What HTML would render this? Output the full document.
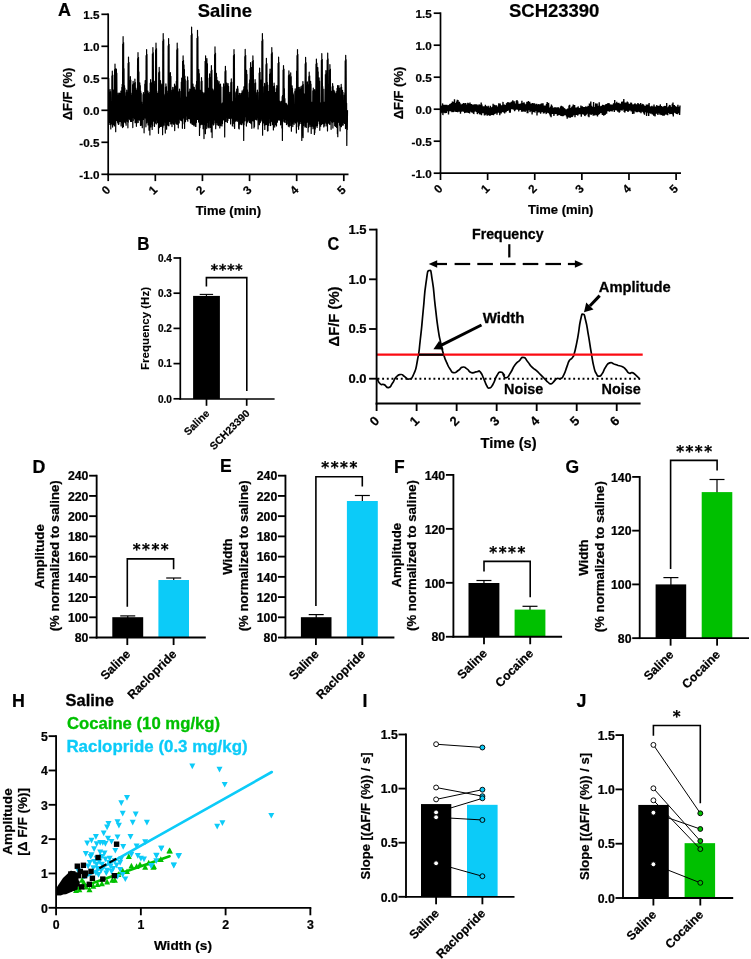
<!DOCTYPE html>
<html><head><meta charset="utf-8"><title>Figure</title>
<style>
html,body{margin:0;padding:0;background:#fff;}
svg{display:block;font-family:"Liberation Sans",sans-serif;}
</style></head><body>
<svg width="751" height="959" viewBox="0 0 751 959">
<rect width="751" height="959" fill="#fff"/>
<polyline points="108.5,78.3 108.7,78.3 109.0,122.5 109.2,110.6 109.4,122.5 109.6,92.0 109.9,124.4 110.1,89.5 110.3,122.6 110.5,91.6 110.8,129.0 111.0,104.9 111.2,124.7 111.4,108.1 111.7,122.8 111.9,75.9 112.1,123.4 112.3,71.2 112.6,127.1 112.8,75.1 113.0,120.8 113.2,92.4 113.5,124.7 113.7,90.0 113.9,121.8 114.1,92.0 114.4,125.9 114.6,69.6 114.8,122.2 115.0,64.0 115.3,122.9 115.5,68.7 115.7,131.7 115.9,74.0 116.2,120.4 116.4,69.1 116.6,120.4 116.8,73.2 117.1,120.3 117.3,104.1 117.5,122.2 117.7,95.2 118.0,123.2 118.2,93.1 118.4,124.5 118.6,94.8 118.9,124.0 119.1,95.0 119.3,121.7 119.5,93.0 119.8,120.6 120.0,94.7 120.2,121.5 120.4,93.4 120.7,118.0 120.9,91.1 121.1,126.0 121.3,93.0 121.6,122.6 121.8,87.4 122.0,121.2 122.2,84.3 122.5,127.6 122.7,44.1 122.9,120.7 123.1,36.7 123.4,126.7 123.6,42.6 123.8,117.0 124.0,68.7 124.3,121.9 124.5,85.7 124.7,119.4 124.9,88.1 125.2,122.8 125.4,96.1 125.6,120.4 125.8,105.0 126.1,125.2 126.3,92.5 126.5,117.7 126.7,90.0 127.0,120.6 127.2,92.1 127.4,121.5 127.6,106.2 127.9,127.8 128.1,63.4 128.3,122.3 128.5,57.0 128.8,117.2 129.0,62.4 129.2,118.1 129.4,103.7 129.7,119.6 129.9,80.7 130.1,119.8 130.4,76.7 130.6,121.4 130.8,80.1 131.0,116.9 131.3,105.0 131.5,121.5 131.7,95.3 131.9,116.6 132.2,93.2 132.4,116.9 132.6,84.7 132.8,127.6 133.1,81.3 133.3,120.4 133.5,84.2 133.7,116.9 134.0,97.3 134.2,117.5 134.4,83.0 134.6,118.9 134.9,79.2 135.1,122.7 135.3,82.3 135.5,120.5 135.8,88.0 136.0,122.2 136.2,90.3 136.4,126.3 136.7,92.3 136.9,122.9 137.1,89.8 137.3,119.9 137.6,58.5 137.8,117.7 138.0,52.7 138.2,122.5 138.5,57.3 138.7,119.6 138.9,71.9 139.1,118.1 139.4,86.2 139.6,120.1 139.8,82.9 140.0,120.3 140.3,85.7 140.5,125.4 140.7,91.1 140.9,125.4 141.2,93.0 141.4,122.4 141.6,102.0 141.8,124.6 142.1,104.4 142.3,127.7 142.5,104.8 142.7,119.4 143.0,94.6 143.2,118.6 143.4,92.5 143.6,119.5 143.9,94.3 144.1,132.8 144.3,102.2 144.5,118.0 144.8,84.2 145.0,117.6 145.2,80.7 145.4,118.1 145.7,83.6 145.9,126.8 146.1,55.6 146.3,119.1 146.6,49.5 146.8,122.8 147.0,54.4 147.2,120.9 147.5,93.3 147.7,120.0 147.9,91.0 148.1,125.0 148.4,92.9 148.6,123.7 148.8,105.0 149.0,130.2 149.3,94.4 149.5,124.0 149.7,92.3 149.9,134.9 150.2,83.2 150.4,124.9 150.6,79.5 150.8,126.9 151.1,82.6 151.3,124.2 151.5,109.3 151.7,120.4 152.0,94.4 152.2,129.5 152.4,53.9 152.7,125.9 152.9,47.6 153.1,119.9 153.3,52.6 153.6,121.1 153.8,85.4 154.0,119.9 154.2,84.9 154.5,126.4 154.7,81.4 154.9,122.4 155.1,84.3 155.4,119.1 155.6,49.8 155.8,123.2 156.0,43.1 156.3,123.9 156.5,48.5 156.7,119.2 156.9,91.0 157.2,120.0 157.4,93.0 157.6,122.7 157.8,105.7 158.1,120.6 158.3,106.9 158.5,133.3 158.7,72.5 159.0,122.2 159.2,67.4 159.4,127.6 159.6,71.7 159.9,119.3 160.1,84.2 160.3,126.5 160.5,80.7 160.8,123.2 161.0,83.6 161.2,126.5 161.4,87.9 161.7,125.3 161.9,84.9 162.1,125.6 162.3,87.4 162.6,134.7 162.8,41.2 163.0,127.2 163.2,33.5 163.5,122.8 163.7,39.6 163.9,125.2 164.1,94.1 164.4,120.7 164.6,95.7 164.8,122.0 165.0,104.2 165.3,133.1 165.5,87.1 165.7,120.3 165.9,83.9 166.2,122.0 166.4,86.5 166.6,129.2 166.8,107.1 167.1,124.5 167.3,93.4 167.5,124.3 167.7,91.1 168.0,125.3 168.2,45.8 168.4,122.1 168.6,38.6 168.9,125.8 169.1,44.4 169.3,119.8 169.5,85.9 169.8,121.5 170.0,77.2 170.2,121.4 170.4,72.7 170.7,124.0 170.9,76.4 171.1,121.3 171.3,100.2 171.6,123.7 171.8,106.1 172.0,126.6 172.2,90.1 172.5,122.9 172.7,87.4 172.9,120.5 173.1,89.7 173.4,123.8 173.6,107.6 173.8,124.3 174.1,87.4 174.3,120.4 174.5,84.2 174.7,130.6 175.0,86.9 175.2,121.8 175.4,86.1 175.6,120.9 175.9,88.5 176.1,123.6 176.3,81.4 176.5,120.1 176.8,49.8 177.0,124.5 177.2,43.1 177.4,120.6 177.7,48.5 177.9,123.8 178.1,95.8 178.3,127.8 178.6,98.9 178.8,119.9 179.0,91.7 179.2,123.0 179.5,89.2 179.7,117.7 179.9,91.3 180.1,119.2 180.4,101.5 180.6,119.9 180.8,104.0 181.0,120.4 181.3,82.0 181.5,118.7 181.7,78.1 181.9,121.1 182.2,81.3 182.4,128.3 182.6,61.3 182.8,119.0 183.1,55.9 183.3,117.7 183.5,60.3 183.7,116.1 184.0,64.9 184.2,123.8 184.4,69.4 184.6,128.5 184.9,76.1 185.1,118.7 185.3,79.5 185.5,121.7 185.8,97.3 186.0,115.2 186.2,104.6 186.4,115.9 186.7,96.8 186.9,119.4 187.1,80.9 187.3,119.8 187.6,76.9 187.8,121.2 188.0,80.3 188.2,117.2 188.5,92.4 188.7,118.3 188.9,94.2 189.1,118.4 189.4,91.6 189.6,118.7 189.8,89.1 190.0,118.9 190.3,91.2 190.5,123.0 190.7,105.6 190.9,119.0 191.2,35.4 191.4,121.8 191.6,27.1 191.8,124.0 192.1,33.8 192.3,117.4 192.5,87.4 192.7,124.4 193.0,84.2 193.2,123.3 193.4,86.8 193.6,125.0 193.9,90.1 194.1,125.8 194.3,87.4 194.5,121.8 194.8,89.7 195.0,124.1 195.2,90.7 195.5,126.3 195.7,92.7 195.9,126.5 196.1,84.8 196.4,122.6 196.6,81.3 196.8,119.0 197.0,38.3 197.3,119.4 197.5,30.3 197.7,119.2 197.9,36.7 198.2,119.5 198.4,74.4 198.6,122.1 198.8,69.5 199.1,119.4 199.3,73.6 199.5,135.5 199.7,92.7 200.0,127.7 200.2,90.3 200.4,121.0 200.6,92.3 200.9,124.7 201.1,81.6 201.3,121.4 201.5,77.7 201.8,124.2 202.0,81.0 202.2,120.6 202.4,94.5 202.7,124.5 202.9,92.4 203.1,128.7 203.3,94.2 203.6,127.3 203.8,95.2 204.0,138.6 204.2,93.1 204.5,124.5 204.7,94.9 204.9,121.8 205.1,61.3 205.4,133.7 205.6,55.9 205.8,125.3 206.0,60.3 206.3,122.3 206.5,64.8 206.7,128.6 206.9,58.5 207.2,122.3 207.4,63.7 207.6,121.7 207.8,91.1 208.1,127.2 208.3,88.4 208.5,126.7 208.7,90.6 209.0,127.9 209.2,78.2 209.4,119.4 209.6,73.8 209.9,120.6 210.1,77.4 210.3,127.3 210.5,107.3 210.8,123.7 211.0,71.0 211.2,131.9 211.4,65.7 211.7,122.4 211.9,70.1 212.1,137.6 212.3,91.7 212.6,121.4 212.8,89.2 213.0,123.7 213.2,91.3 213.5,125.0 213.7,92.6 213.9,124.2 214.1,90.1 214.4,120.0 214.6,54.5 214.8,119.7 215.0,46.9 215.3,122.7 215.5,53.2 215.7,128.7 215.9,77.8 216.2,121.0 216.4,73.4 216.6,122.4 216.8,77.1 217.1,124.8 217.3,84.2 217.5,119.4 217.8,80.7 218.0,122.6 218.2,83.6 218.4,125.6 218.7,85.1 218.9,124.9 219.1,81.6 219.3,121.4 219.6,84.5 219.8,128.0 220.0,87.3 220.2,124.4 220.5,84.2 220.7,125.7 220.9,86.8 221.1,118.3 221.4,104.0 221.6,122.8 221.8,106.3 222.0,126.0 222.3,103.2 222.5,123.6 222.7,103.7 222.9,119.5 223.2,87.0 223.4,120.0 223.6,83.9 223.8,116.4 224.1,86.5 224.3,117.2 224.5,93.8 224.7,136.9 225.0,71.6 225.2,117.4 225.4,66.3 225.6,121.3 225.9,70.7 226.1,121.6 226.3,86.3 226.5,117.0 226.8,83.0 227.0,117.0 227.2,85.7 227.4,122.4 227.7,86.9 227.9,120.4 228.1,83.7 228.3,117.9 228.6,86.4 228.8,117.8 229.0,102.6 229.2,118.4 229.5,94.5 229.7,118.0 229.9,92.3 230.1,118.1 230.4,94.1 230.6,123.9 230.8,82.6 231.0,116.2 231.3,78.9 231.5,117.3 231.7,82.0 231.9,118.6 232.2,103.5 232.4,126.0 232.6,101.9 232.8,117.3 233.1,103.2 233.3,120.2 233.5,55.6 233.7,123.4 234.0,49.5 234.2,126.7 234.4,54.4 234.6,128.4 234.9,92.7 235.1,121.6 235.3,100.7 235.5,120.2 235.8,101.8 236.0,121.0 236.2,91.7 236.4,119.9 236.7,89.2 236.9,116.4 237.1,89.3 237.3,121.3 237.6,86.4 237.8,118.7 238.0,88.8 238.2,119.9 238.5,103.6 238.7,128.3 238.9,95.3 239.2,129.0 239.4,93.3 239.6,118.4 239.8,95.0 240.1,124.2 240.3,93.6 240.5,120.5 240.7,95.3 241.0,123.4 241.2,104.6 241.4,124.5 241.6,93.1 241.9,124.7 242.1,90.8 242.3,117.0 242.5,92.7 242.8,122.9 243.0,105.6 243.2,117.6 243.4,89.6 243.7,140.4 243.9,86.8 244.1,124.8 244.3,89.1 244.6,117.1 244.8,56.6 245.0,120.8 245.2,49.3 245.5,116.7 245.7,55.4 245.9,116.5 246.1,75.2 246.4,126.1 246.6,70.4 246.8,123.2 247.0,74.4 247.3,116.8 247.5,89.9 247.7,122.0 247.9,92.0 248.2,119.8 248.4,97.9 248.6,118.0 248.8,101.9 249.1,121.1 249.3,83.5 249.5,122.5 249.7,79.8 250.0,117.9 250.2,68.3 250.4,122.8 250.6,62.6 250.9,116.9 251.1,67.4 251.3,123.8 251.5,72.5 251.8,128.3 252.0,67.3 252.2,116.7 252.4,61.3 252.7,120.2 252.9,55.9 253.1,121.0 253.3,60.3 253.6,121.0 253.8,91.1 254.0,128.0 254.2,100.8 254.5,126.6 254.7,83.4 254.9,117.9 255.1,79.7 255.4,119.0 255.6,82.8 255.8,119.5 256.0,105.1 256.3,117.9 256.5,101.3 256.7,120.0 256.9,92.6 257.2,117.9 257.4,90.2 257.6,117.8 257.8,92.2 258.1,129.0 258.3,105.7 258.5,119.5 258.7,103.2 259.0,119.0 259.2,73.1 259.4,124.7 259.6,68.0 259.9,117.6 260.1,72.3 260.3,122.6 260.5,83.7 260.8,116.4 261.0,80.1 261.2,121.0 261.5,83.1 261.7,117.4 261.9,41.2 262.1,119.2 262.4,33.5 262.6,135.2 262.8,39.6 263.0,122.0 263.3,106.6 263.5,122.9 263.7,104.9 263.9,121.5 264.2,86.6 264.4,125.3 264.6,83.4 264.8,129.4 265.1,86.1 265.3,119.1 265.5,97.6 265.7,124.6 266.0,64.5 266.2,124.6 266.4,58.3 266.6,124.4 266.9,63.5 267.1,120.3 267.3,82.3 267.5,131.0 267.8,85.1 268.0,130.7 268.2,93.8 268.4,125.4 268.7,91.5 268.9,122.9 269.1,93.4 269.3,118.6 269.6,74.0 269.8,118.5 270.0,69.0 270.2,125.6 270.5,73.1 270.7,125.4 270.9,84.5 271.1,121.7 271.4,53.9 271.6,121.1 271.8,47.6 272.0,120.2 272.3,52.6 272.5,124.6 272.7,88.9 272.9,124.5 273.2,91.1 273.4,130.0 273.6,86.4 273.8,121.9 274.1,83.2 274.3,119.0 274.5,85.9 274.7,127.1 275.0,94.8 275.2,124.7 275.4,92.6 275.6,124.6 275.9,94.4 276.1,122.0 276.3,88.5 276.5,126.0 276.8,85.5 277.0,117.2 277.2,88.0 277.4,122.2 277.7,104.7 277.9,119.9 278.1,63.4 278.3,120.0 278.6,57.0 278.8,119.7 279.0,62.3 279.2,120.1 279.5,104.3 279.7,119.8 279.9,101.4 280.1,119.3 280.4,105.4 280.6,124.8 280.8,102.5 281.0,118.2 281.3,101.3 281.5,116.7 281.7,103.4 281.9,127.9 282.2,96.5 282.4,140.4 282.6,95.3 282.9,121.2 283.1,70.0 283.3,117.5 283.5,65.5 283.8,118.5 284.0,69.1 284.2,121.9 284.4,88.5 284.7,122.0 284.9,98.7 285.1,122.5 285.3,103.1 285.6,119.5 285.8,104.4 286.0,119.3 286.2,103.4 286.5,124.6 286.7,104.2 286.9,120.0 287.1,107.6 287.4,119.1 287.6,105.9 287.8,124.1 288.0,105.1 288.3,126.1 288.5,75.5 288.7,120.4 288.9,70.8 289.2,126.8 289.4,74.7 289.6,122.4 289.8,105.5 290.1,125.4 290.3,77.3 290.5,119.9 290.7,72.8 291.0,121.7 291.2,76.5 291.4,131.2 291.6,88.9 291.9,123.6 292.1,85.9 292.3,123.7 292.5,88.4 292.8,126.6 293.0,92.9 293.2,119.7 293.4,94.6 293.7,121.8 293.9,107.8 294.1,124.3 294.3,105.7 294.6,121.8 294.8,91.4 295.0,120.8 295.2,88.8 295.5,123.0 295.7,91.0 295.9,121.7 296.1,92.9 296.4,133.0 296.6,71.0 296.8,119.8 297.0,55.6 297.3,120.3 297.5,49.5 297.7,122.1 297.9,54.4 298.2,126.7 298.4,87.3 298.6,129.3 298.8,89.6 299.1,125.7 299.3,90.1 299.5,123.9 299.7,87.3 300.0,121.4 300.2,89.6 300.4,120.8 300.6,89.1 300.9,123.5 301.1,86.3 301.3,122.7 301.5,88.7 301.8,140.4 302.0,109.1 302.2,124.3 302.4,85.0 302.7,135.2 302.9,81.5 303.1,137.6 303.3,84.4 303.6,125.4 303.8,96.1 304.0,122.5 304.3,94.2 304.5,120.8 304.7,95.8 304.9,126.9 305.2,63.8 305.4,126.3 305.6,57.4 305.8,122.1 306.1,62.7 306.3,127.5 306.5,109.8 306.7,121.3 307.0,85.3 307.2,122.2 307.4,81.9 307.6,120.4 307.9,84.7 308.1,131.9 308.3,108.8 308.5,127.5 308.8,76.6 309.0,124.2 309.2,72.0 309.4,124.1 309.7,75.9 309.9,126.6 310.1,84.8 310.3,123.9 310.6,81.3 310.8,121.3 311.0,84.2 311.2,133.5 311.5,104.1 311.7,120.5 311.9,102.4 312.1,126.2 312.4,105.9 312.6,123.5 312.8,90.8 313.0,128.7 313.3,88.1 313.5,126.2 313.7,90.3 313.9,126.8 314.2,92.2 314.4,134.4 314.6,89.7 314.8,132.8 315.1,91.8 315.3,129.0 315.5,109.8 315.7,122.8 316.0,64.2 316.2,125.8 316.4,59.1 316.6,121.9 316.9,63.2 317.1,127.4 317.3,72.6 317.5,125.6 317.8,67.5 318.0,121.0 318.2,71.8 318.4,120.9 318.7,81.8 318.9,121.2 319.1,77.9 319.3,123.8 319.6,81.1 319.8,130.3 320.0,106.8 320.2,120.9 320.5,110.4 320.7,126.2 320.9,102.6 321.1,122.8 321.4,60.4 321.6,124.5 321.8,53.6 322.0,123.9 322.3,59.3 322.5,121.6 322.7,86.6 322.9,123.5 323.2,89.0 323.4,119.4 323.6,107.8 323.8,127.0 324.1,102.3 324.3,126.0 324.5,108.8 324.7,123.4 325.0,89.2 325.2,122.1 325.4,74.6 325.6,121.8 325.9,70.6 326.1,126.0 326.3,73.8 326.6,123.6 326.8,76.2 327.0,120.8 327.2,60.0 327.5,131.0 327.7,53.1 327.9,123.2 328.1,58.8 328.4,121.4 328.6,105.5 328.8,123.1 329.0,105.4 329.3,122.0 329.5,70.0 329.7,124.5 329.9,64.6 330.2,120.5 330.4,69.1 330.6,120.5 330.8,93.6 331.1,129.3 331.3,91.3 331.5,121.3 331.7,93.2 332.0,120.9 332.2,86.8 332.4,122.3 332.6,83.6 332.9,128.1 333.1,86.2 333.3,122.1 333.5,92.7 333.8,120.9 334.0,90.4 334.2,121.1 334.4,92.3 334.7,125.7 334.9,91.8 335.1,122.9 335.3,93.6 335.6,126.4 335.8,105.9 336.0,121.8 336.2,93.6 336.5,127.3 336.7,91.4 336.9,124.1 337.1,88.4 337.4,133.7 337.6,85.5 337.8,136.7 338.0,87.9 338.3,122.4 338.5,88.5 338.7,121.9 338.9,85.6 339.2,121.4 339.4,88.0 339.6,125.2 339.8,108.6 340.1,131.0 340.3,109.0 340.5,124.1 340.7,87.5 341.0,125.9 341.2,84.4 341.4,126.7 341.6,87.0 341.9,125.4 342.1,92.7 342.3,125.0 342.5,90.3 342.8,122.2 343.0,92.3 343.2,125.1 343.4,106.4 343.7,121.2 343.9,107.5 344.1,122.4 344.3,95.0 344.6,123.5 344.8,92.9 345.0,120.7 345.2,60.8 345.5,128.6 345.7,55.3 345.9,122.0 346.1,59.7 346.4,123.1 346.6,103.2 346.8,145.5 347.0,110.3 347.3,129.5 347.5,110.3" fill="none" stroke="#000" stroke-width="1.2" stroke-linejoin="round"/>
<line x1="108.20" y1="13.45" x2="108.20" y2="175.15" stroke="#000" stroke-width="1.7" />
<line x1="101.40" y1="14.30" x2="108.20" y2="14.30" stroke="#000" stroke-width="1.7" />
<text font-size="11.7" text-anchor="end" font-weight="bold" stroke="#000" stroke-width="0.22" x="99.40" y="18.81" >1.5</text>
<line x1="101.40" y1="46.30" x2="108.20" y2="46.30" stroke="#000" stroke-width="1.7" />
<text font-size="11.7" text-anchor="end" font-weight="bold" stroke="#000" stroke-width="0.22" x="99.40" y="50.81" >1.0</text>
<line x1="101.40" y1="78.30" x2="108.20" y2="78.30" stroke="#000" stroke-width="1.7" />
<text font-size="11.7" text-anchor="end" font-weight="bold" stroke="#000" stroke-width="0.22" x="99.40" y="82.81" >0.5</text>
<line x1="101.40" y1="110.30" x2="108.20" y2="110.30" stroke="#000" stroke-width="1.7" />
<text font-size="11.7" text-anchor="end" font-weight="bold" stroke="#000" stroke-width="0.22" x="99.40" y="114.81" >0.0</text>
<line x1="101.40" y1="142.30" x2="108.20" y2="142.30" stroke="#000" stroke-width="1.7" />
<text font-size="11.7" text-anchor="end" font-weight="bold" stroke="#000" stroke-width="0.22" x="99.40" y="146.81" >-0.5</text>
<line x1="101.40" y1="174.30" x2="108.20" y2="174.30" stroke="#000" stroke-width="1.7" />
<text font-size="11.7" text-anchor="end" font-weight="bold" stroke="#000" stroke-width="0.22" x="99.40" y="178.81" >-1.0</text>
<line x1="107.35" y1="174.30" x2="348.50" y2="174.30" stroke="#000" stroke-width="1.7" />
<line x1="108.20" y1="174.30" x2="108.20" y2="181.10" stroke="#000" stroke-width="1.7" />
<text font-size="11.7" text-anchor="end" font-weight="bold" stroke="#000" stroke-width="0.22" transform="translate(111.00 190.60) rotate(-45)" >0</text>
<line x1="155.32" y1="174.30" x2="155.32" y2="181.10" stroke="#000" stroke-width="1.7" />
<text font-size="11.7" text-anchor="end" font-weight="bold" stroke="#000" stroke-width="0.22" transform="translate(158.12 190.60) rotate(-45)" >1</text>
<line x1="202.44" y1="174.30" x2="202.44" y2="181.10" stroke="#000" stroke-width="1.7" />
<text font-size="11.7" text-anchor="end" font-weight="bold" stroke="#000" stroke-width="0.22" transform="translate(205.24 190.60) rotate(-45)" >2</text>
<line x1="249.56" y1="174.30" x2="249.56" y2="181.10" stroke="#000" stroke-width="1.7" />
<text font-size="11.7" text-anchor="end" font-weight="bold" stroke="#000" stroke-width="0.22" transform="translate(252.36 190.60) rotate(-45)" >3</text>
<line x1="296.68" y1="174.30" x2="296.68" y2="181.10" stroke="#000" stroke-width="1.7" />
<text font-size="11.7" text-anchor="end" font-weight="bold" stroke="#000" stroke-width="0.22" transform="translate(299.48 190.60) rotate(-45)" >4</text>
<line x1="343.80" y1="174.30" x2="343.80" y2="181.10" stroke="#000" stroke-width="1.7" />
<text font-size="11.7" text-anchor="end" font-weight="bold" stroke="#000" stroke-width="0.22" transform="translate(346.60 190.60) rotate(-45)" >5</text>
<text font-size="13" text-anchor="middle" font-weight="bold" stroke="#000" stroke-width="0.22" transform="translate(71.80 94.00) rotate(-90)" >ΔF/F (%)</text>
<text font-size="13" text-anchor="middle" font-weight="bold" stroke="#000" stroke-width="0.22" x="228.40" y="214.50" >Time (min)</text>
<text font-size="18.5" text-anchor="start" font-weight="bold" stroke="#000" stroke-width="0.22" textLength="13" lengthAdjust="spacingAndGlyphs" x="58.00" y="16.00" >A</text>
<text font-size="18.6" text-anchor="start" font-weight="bold" stroke="#000" stroke-width="0.22" textLength="54.2" lengthAdjust="spacingAndGlyphs" x="197.70" y="16.60" >Saline</text>
<polyline points="440.8,113.4 441.2,106.0 441.5,112.8 441.9,105.6 442.2,112.5 442.6,103.4 442.9,115.1 443.3,105.9 443.6,112.6 444.0,104.8 444.3,111.6 444.7,105.2 445.0,113.1 445.4,104.9 445.7,111.9 446.1,105.8 446.4,112.9 446.8,104.9 447.1,110.9 447.5,105.4 447.8,111.1 448.2,105.4 448.5,114.4 448.9,105.0 449.2,110.2 449.6,104.3 449.9,111.3 450.3,103.9 450.6,110.3 451.0,103.5 451.3,111.5 451.7,103.1 452.0,112.2 452.4,101.4 452.7,110.9 453.1,103.3 453.4,112.1 453.8,101.7 454.1,111.7 454.5,99.3 454.8,109.5 455.2,103.0 455.6,111.6 455.9,103.3 456.3,112.0 456.6,101.5 457.0,110.2 457.3,99.7 457.7,112.3 458.0,99.9 458.4,111.2 458.7,102.1 459.1,111.6 459.4,101.8 459.8,110.5 460.1,103.3 460.5,113.7 460.8,104.7 461.2,110.6 461.5,104.6 461.9,111.8 462.2,103.7 462.6,110.8 462.9,103.8 463.3,111.2 463.6,103.0 464.0,112.0 464.3,104.6 464.7,113.1 465.0,103.3 465.4,111.5 465.7,103.0 466.1,112.7 466.4,104.6 466.8,112.5 467.1,105.0 467.5,111.4 467.8,102.8 468.2,113.0 468.5,103.3 468.9,111.0 469.3,104.6 469.6,113.4 470.0,102.5 470.3,111.6 470.7,105.4 471.0,111.6 471.4,104.1 471.7,112.4 472.1,104.5 472.4,112.5 472.8,105.7 473.1,113.1 473.5,104.8 473.8,114.1 474.2,104.3 474.5,111.7 474.9,104.7 475.2,111.4 475.6,104.3 475.9,111.5 476.3,106.1 476.6,112.0 477.0,104.4 477.3,114.1 477.7,105.2 478.0,112.2 478.4,105.3 478.7,112.9 479.1,104.2 479.4,114.2 479.8,105.5 480.1,114.5 480.5,104.8 480.8,112.4 481.2,102.6 481.5,115.3 481.9,104.4 482.2,113.1 482.6,106.4 482.9,113.2 483.3,106.5 483.7,112.3 484.0,106.4 484.4,115.4 484.7,107.2 485.1,115.3 485.4,104.8 485.8,114.2 486.1,106.0 486.5,114.5 486.8,106.5 487.2,115.7 487.5,106.8 487.9,113.6 488.2,105.7 488.6,115.3 488.9,107.7 489.3,114.4 489.6,107.6 490.0,115.9 490.3,105.8 490.7,115.3 491.0,107.3 491.4,114.1 491.7,107.3 492.1,114.9 492.4,106.9 492.8,115.0 493.1,103.8 493.5,115.2 493.8,105.8 494.2,112.8 494.5,104.8 494.9,114.1 495.2,105.9 495.6,112.2 495.9,105.4 496.3,113.2 496.6,105.3 497.0,114.6 497.4,106.6 497.7,112.4 498.1,106.7 498.4,112.6 498.8,103.3 499.1,112.3 499.5,106.2 499.8,115.3 500.2,103.5 500.5,112.7 500.9,105.5 501.2,113.4 501.6,105.4 501.9,111.9 502.3,106.1 502.6,111.1 503.0,101.9 503.3,112.4 503.7,104.7 504.0,111.4 504.4,104.4 504.7,113.4 505.1,105.0 505.4,112.3 505.8,105.0 506.1,112.1 506.5,103.3 506.8,110.4 507.2,102.7 507.5,111.0 507.9,102.1 508.2,110.4 508.6,102.5 508.9,110.5 509.3,103.3 509.6,112.8 510.0,102.5 510.3,112.8 510.7,103.3 511.0,109.3 511.4,101.7 511.8,109.0 512.1,101.5 512.5,109.1 512.8,100.3 513.2,109.4 513.5,103.5 513.9,109.8 514.2,101.3 514.6,111.2 514.9,103.5 515.3,110.3 515.6,103.6 516.0,109.6 516.3,100.7 516.7,109.5 517.0,100.0 517.4,109.7 517.7,101.3 518.1,109.8 518.4,103.9 518.8,111.4 519.1,104.3 519.5,109.6 519.8,103.9 520.2,109.9 520.5,103.9 520.9,109.8 521.2,103.4 521.6,111.8 521.9,100.7 522.3,111.4 522.6,104.1 523.0,111.7 523.3,103.0 523.7,110.1 524.0,102.2 524.4,111.2 524.7,103.6 525.1,111.9 525.5,104.5 525.8,110.5 526.2,104.4 526.5,110.8 526.9,101.9 527.2,113.2 527.6,103.8 527.9,113.2 528.3,100.9 528.6,110.1 529.0,102.9 529.3,110.3 529.7,101.7 530.0,112.1 530.4,104.4 530.7,110.0 531.1,103.6 531.4,111.3 531.8,104.1 532.1,114.4 532.5,102.9 532.8,112.3 533.2,103.2 533.5,110.6 533.9,103.8 534.2,112.1 534.6,103.2 534.9,112.6 535.3,104.3 535.6,110.6 536.0,105.1 536.3,111.0 536.7,103.8 537.0,115.4 537.4,104.4 537.7,112.5 538.1,105.6 538.4,111.1 538.8,104.1 539.1,112.5 539.5,105.9 539.9,111.5 540.2,104.5 540.6,113.8 540.9,103.7 541.3,112.4 541.6,103.4 542.0,111.4 542.3,104.6 542.7,111.9 543.0,103.3 543.4,113.4 543.7,105.5 544.1,113.4 544.4,106.2 544.8,112.4 545.1,105.6 545.5,112.4 545.8,105.8 546.2,114.1 546.5,104.1 546.9,112.3 547.2,102.1 547.6,112.7 547.9,105.5 548.3,113.2 548.6,102.9 549.0,112.8 549.3,107.5 549.7,114.4 550.0,107.7 550.4,116.1 550.7,106.6 551.1,117.3 551.4,104.6 551.8,114.1 552.1,105.9 552.5,113.9 552.8,107.9 553.2,113.6 553.6,107.7 553.9,115.9 554.3,107.3 554.6,114.2 555.0,108.0 555.3,113.7 555.7,107.2 556.0,113.9 556.4,107.6 556.7,113.8 557.1,108.3 557.4,115.6 557.8,107.3 558.1,115.0 558.5,107.3 558.8,115.1 559.2,108.3 559.5,114.9 559.9,108.5 560.2,114.2 560.6,106.5 560.9,116.0 561.3,105.8 561.6,114.0 562.0,108.6 562.3,116.1 562.7,106.4 563.0,116.2 563.4,107.2 563.7,115.8 564.1,108.1 564.4,115.2 564.8,108.6 565.1,115.1 565.5,109.6 565.8,114.9 566.2,109.2 566.5,116.5 566.9,109.3 567.2,118.7 567.6,108.6 568.0,115.2 568.3,109.4 568.7,117.4 569.0,105.5 569.4,116.5 569.7,104.8 570.1,118.0 570.4,108.9 570.8,115.8 571.1,108.0 571.5,117.0 571.8,106.7 572.2,117.1 572.5,106.2 572.9,116.3 573.2,104.6 573.6,114.1 573.9,108.0 574.3,115.0 574.6,104.9 575.0,117.2 575.3,107.6 575.7,114.5 576.0,108.6 576.4,114.9 576.7,107.6 577.1,114.1 577.4,107.4 577.8,115.6 578.1,106.4 578.5,114.5 578.8,107.9 579.2,113.5 579.5,108.1 579.9,114.2 580.2,108.0 580.6,113.9 580.9,105.5 581.3,116.8 581.7,106.5 582.0,114.1 582.4,106.3 582.7,113.8 583.1,107.1 583.4,114.5 583.8,107.5 584.1,114.8 584.5,107.0 584.8,116.1 585.2,107.4 585.5,115.4 585.9,106.3 586.2,114.8 586.6,107.4 586.9,113.1 587.3,107.0 587.6,113.8 588.0,105.9 588.3,116.4 588.7,107.5 589.0,117.3 589.4,103.6 589.7,113.3 590.1,107.3 590.4,114.2 590.8,101.5 591.1,114.9 591.5,105.7 591.8,114.1 592.2,106.8 592.5,113.6 592.9,106.7 593.2,115.7 593.6,102.0 593.9,114.3 594.3,107.1 594.6,115.5 595.0,107.0 595.3,114.1 595.7,103.4 596.1,115.2 596.4,104.5 596.8,112.8 597.1,103.4 597.5,116.5 597.8,106.7 598.2,115.1 598.5,105.8 598.9,112.7 599.2,102.3 599.6,114.3 599.9,106.7 600.3,112.3 600.6,106.4 601.0,113.0 601.3,105.9 601.7,113.1 602.0,107.0 602.4,114.9 602.7,104.8 603.1,114.6 603.4,104.9 603.8,115.8 604.1,105.2 604.5,113.4 604.8,105.3 605.2,114.9 605.5,104.4 605.9,112.0 606.2,104.1 606.6,113.8 606.9,106.0 607.3,111.1 607.6,103.3 608.0,111.2 608.3,103.2 608.7,110.9 609.0,103.0 609.4,111.6 609.8,104.2 610.1,111.1 610.5,105.1 610.8,111.3 611.2,104.5 611.5,110.7 611.9,104.9 612.2,111.4 612.6,104.7 612.9,110.2 613.3,103.9 613.6,109.8 614.0,103.1 614.3,111.9 614.7,100.1 615.0,110.1 615.4,103.8 615.7,109.7 616.1,103.2 616.4,110.5 616.8,101.8 617.1,110.3 617.5,103.0 617.8,111.7 618.2,103.1 618.5,110.4 618.9,102.8 619.2,112.8 619.6,103.8 619.9,111.8 620.3,104.0 620.6,109.3 621.0,103.6 621.3,110.0 621.7,101.9 622.0,110.8 622.4,101.5 622.7,109.8 623.1,103.0 623.4,109.2 623.8,99.1 624.2,111.9 624.5,102.5 624.9,112.6 625.2,103.7 625.6,110.0 625.9,102.5 626.3,110.9 626.6,103.8 627.0,110.8 627.3,101.5 627.7,111.8 628.0,102.4 628.4,111.6 628.7,104.3 629.1,110.6 629.4,103.7 629.8,110.3 630.1,104.3 630.5,110.5 630.8,102.6 631.2,111.5 631.5,102.9 631.9,111.1 632.2,104.2 632.6,114.0 632.9,104.9 633.3,111.9 633.6,104.6 634.0,113.7 634.3,104.1 634.7,111.1 635.0,103.3 635.4,110.3 635.7,104.9 636.1,112.1 636.4,104.4 636.8,111.3 637.1,104.9 637.5,112.1 637.9,103.1 638.2,111.7 638.6,103.9 638.9,111.7 639.3,104.4 639.6,112.2 640.0,105.0 640.3,111.7 640.7,103.0 641.0,113.3 641.4,106.1 641.7,111.3 642.1,104.5 642.4,111.6 642.8,103.9 643.1,112.2 643.5,104.6 643.8,113.6 644.2,105.6 644.5,114.8 644.9,106.1 645.2,112.2 645.6,106.2 645.9,112.3 646.3,104.6 646.6,115.9 647.0,105.6 647.3,111.9 647.7,104.5 648.0,112.8 648.4,105.9 648.7,116.1 649.1,103.1 649.4,112.6 649.8,106.3 650.1,113.2 650.5,106.5 650.8,113.6 651.2,106.6 651.5,113.1 651.9,105.9 652.3,114.4 652.6,106.6 653.0,114.1 653.3,107.5 653.7,115.7 654.0,104.5 654.4,113.4 654.7,106.5 655.1,116.4 655.4,106.5 655.8,112.9 656.1,107.3 656.5,113.8 656.8,105.1 657.2,113.1 657.5,107.5 657.9,114.9 658.2,105.9 658.6,112.8 658.9,105.7 659.3,113.5 659.6,107.6 660.0,114.7 660.3,104.4 660.7,113.3 661.0,106.1 661.4,115.1 661.7,106.0 662.1,114.6 662.4,107.0 662.8,115.7 663.1,107.1 663.5,114.5 663.8,106.3 664.2,115.8 664.5,105.9 664.9,114.7 665.2,106.1 665.6,114.1 666.0,106.8 666.3,114.4 666.7,102.9 667.0,114.7 667.4,107.7 667.7,115.1 668.1,107.3 668.4,113.0 668.8,106.4 669.1,113.0 669.5,104.9 669.8,114.3 670.2,105.2 670.5,112.9 670.9,107.3 671.2,113.9 671.6,107.0 671.9,113.0 672.3,103.9 672.6,114.4 673.0,102.5 673.3,116.4 673.7,105.5 674.0,112.7 674.4,105.1 674.7,112.7 675.1,106.0 675.4,112.9 675.8,106.5 676.1,113.6 676.5,106.7 676.8,114.0 677.2,107.5 677.5,114.3 677.9,104.8 678.2,113.1 678.6,106.7 678.9,113.3 679.3,107.3 679.6,114.9 680.0,105.5" fill="none" stroke="#000" stroke-width="1.35" stroke-linejoin="miter"/>
<line x1="440.50" y1="12.35" x2="440.50" y2="174.05" stroke="#000" stroke-width="1.7" />
<line x1="433.70" y1="13.20" x2="440.50" y2="13.20" stroke="#000" stroke-width="1.7" />
<text font-size="11.7" text-anchor="end" font-weight="bold" stroke="#000" stroke-width="0.22" x="431.70" y="17.71" >1.5</text>
<line x1="433.70" y1="45.20" x2="440.50" y2="45.20" stroke="#000" stroke-width="1.7" />
<text font-size="11.7" text-anchor="end" font-weight="bold" stroke="#000" stroke-width="0.22" x="431.70" y="49.71" >1.0</text>
<line x1="433.70" y1="77.20" x2="440.50" y2="77.20" stroke="#000" stroke-width="1.7" />
<text font-size="11.7" text-anchor="end" font-weight="bold" stroke="#000" stroke-width="0.22" x="431.70" y="81.71" >0.5</text>
<line x1="433.70" y1="109.20" x2="440.50" y2="109.20" stroke="#000" stroke-width="1.7" />
<text font-size="11.7" text-anchor="end" font-weight="bold" stroke="#000" stroke-width="0.22" x="431.70" y="113.71" >0.0</text>
<line x1="433.70" y1="141.20" x2="440.50" y2="141.20" stroke="#000" stroke-width="1.7" />
<text font-size="11.7" text-anchor="end" font-weight="bold" stroke="#000" stroke-width="0.22" x="431.70" y="145.71" >-0.5</text>
<line x1="433.70" y1="173.20" x2="440.50" y2="173.20" stroke="#000" stroke-width="1.7" />
<text font-size="11.7" text-anchor="end" font-weight="bold" stroke="#000" stroke-width="0.22" x="431.70" y="177.71" >-1.0</text>
<line x1="439.65" y1="173.20" x2="681.00" y2="173.20" stroke="#000" stroke-width="1.7" />
<line x1="440.50" y1="173.20" x2="440.50" y2="180.00" stroke="#000" stroke-width="1.7" />
<text font-size="11.7" text-anchor="end" font-weight="bold" stroke="#000" stroke-width="0.22" transform="translate(443.30 189.50) rotate(-45)" >0</text>
<line x1="487.62" y1="173.20" x2="487.62" y2="180.00" stroke="#000" stroke-width="1.7" />
<text font-size="11.7" text-anchor="end" font-weight="bold" stroke="#000" stroke-width="0.22" transform="translate(490.42 189.50) rotate(-45)" >1</text>
<line x1="534.74" y1="173.20" x2="534.74" y2="180.00" stroke="#000" stroke-width="1.7" />
<text font-size="11.7" text-anchor="end" font-weight="bold" stroke="#000" stroke-width="0.22" transform="translate(537.54 189.50) rotate(-45)" >2</text>
<line x1="581.86" y1="173.20" x2="581.86" y2="180.00" stroke="#000" stroke-width="1.7" />
<text font-size="11.7" text-anchor="end" font-weight="bold" stroke="#000" stroke-width="0.22" transform="translate(584.66 189.50) rotate(-45)" >3</text>
<line x1="628.98" y1="173.20" x2="628.98" y2="180.00" stroke="#000" stroke-width="1.7" />
<text font-size="11.7" text-anchor="end" font-weight="bold" stroke="#000" stroke-width="0.22" transform="translate(631.78 189.50) rotate(-45)" >4</text>
<line x1="676.10" y1="173.20" x2="676.10" y2="180.00" stroke="#000" stroke-width="1.7" />
<text font-size="11.7" text-anchor="end" font-weight="bold" stroke="#000" stroke-width="0.22" transform="translate(678.90 189.50) rotate(-45)" >5</text>
<text font-size="13" text-anchor="middle" font-weight="bold" stroke="#000" stroke-width="0.22" transform="translate(403.00 93.00) rotate(-90)" >ΔF/F (%)</text>
<text font-size="13" text-anchor="middle" font-weight="bold" stroke="#000" stroke-width="0.22" x="560.70" y="213.50" >Time (min)</text>
<text font-size="18.2" text-anchor="start" font-weight="bold" stroke="#000" stroke-width="0.22" textLength="90.4" lengthAdjust="spacingAndGlyphs" x="509.00" y="16.60" >SCH23390</text>
<rect x="193.10" y="295.90" width="26.80" height="103.10" fill="#000"/>
<line x1="206.40" y1="294.40" x2="206.40" y2="296.50" stroke="#000" stroke-width="1.1" />
<line x1="199.70" y1="294.40" x2="213.10" y2="294.40" stroke="#000" stroke-width="1.1" />
<line x1="180.30" y1="257.15" x2="180.30" y2="399.65" stroke="#000" stroke-width="1.7" />
<line x1="173.50" y1="258.00" x2="180.30" y2="258.00" stroke="#000" stroke-width="1.7" />
<line x1="173.50" y1="293.20" x2="180.30" y2="293.20" stroke="#000" stroke-width="1.7" />
<line x1="173.50" y1="328.40" x2="180.30" y2="328.40" stroke="#000" stroke-width="1.7" />
<line x1="173.50" y1="363.60" x2="180.30" y2="363.60" stroke="#000" stroke-width="1.7" />
<line x1="173.50" y1="398.80" x2="180.30" y2="398.80" stroke="#000" stroke-width="1.7" />
<text font-size="10.0" text-anchor="end" font-weight="bold" stroke="#000" stroke-width="0.22" x="171.90" y="261.80" >0.4</text>
<text font-size="10.0" text-anchor="end" font-weight="bold" stroke="#000" stroke-width="0.22" x="171.90" y="297.00" >0.3</text>
<text font-size="10.0" text-anchor="end" font-weight="bold" stroke="#000" stroke-width="0.22" x="171.90" y="332.20" >0.2</text>
<text font-size="10.0" text-anchor="end" font-weight="bold" stroke="#000" stroke-width="0.22" x="171.90" y="367.40" >0.1</text>
<text font-size="10.0" text-anchor="end" font-weight="bold" stroke="#000" stroke-width="0.22" x="171.90" y="402.60" >0.0</text>
<line x1="179.45" y1="399.00" x2="274.60" y2="399.00" stroke="#000" stroke-width="1.7" />
<line x1="206.50" y1="399.00" x2="206.50" y2="405.80" stroke="#000" stroke-width="1.7" />
<line x1="246.70" y1="399.00" x2="246.70" y2="405.80" stroke="#000" stroke-width="1.7" />
<text font-size="10.5" text-anchor="end" font-weight="bold" stroke="#000" stroke-width="0.22" transform="translate(210.10 414.10) rotate(-45)" >Saline</text>
<text font-size="10.5" text-anchor="end" font-weight="bold" stroke="#000" stroke-width="0.22" transform="translate(250.30 414.10) rotate(-45)" >SCH23390</text>
<polyline points="206.40,286.40 206.40,277.60 246.80,277.60 246.80,391.00" fill="none" stroke="#000" stroke-width="1.6"/>
<text x="214.40" y="274.40" font-size="14" text-anchor="middle" font-weight="bold" stroke="#000" stroke-width="0.35" font-family="DejaVu Sans, sans-serif">*</text>
<text x="222.60" y="274.40" font-size="14" text-anchor="middle" font-weight="bold" stroke="#000" stroke-width="0.35" font-family="DejaVu Sans, sans-serif">*</text>
<text x="230.80" y="274.40" font-size="14" text-anchor="middle" font-weight="bold" stroke="#000" stroke-width="0.35" font-family="DejaVu Sans, sans-serif">*</text>
<text x="239.00" y="274.40" font-size="14" text-anchor="middle" font-weight="bold" stroke="#000" stroke-width="0.35" font-family="DejaVu Sans, sans-serif">*</text>
<text font-size="10.7" text-anchor="middle" font-weight="bold" textLength="83" lengthAdjust="spacingAndGlyphs" transform="translate(149.40 328.50) rotate(-90)" stroke="#000" stroke-width="0.12">Frequency (Hz)</text>
<text font-size="18.3" text-anchor="start" font-weight="bold" stroke="#000" stroke-width="0.22" textLength="12.2" lengthAdjust="spacingAndGlyphs" x="137.30" y="250.00" >B</text>
<line x1="377.50" y1="378.70" x2="640.00" y2="378.70" stroke="#000" stroke-width="1.9" stroke-dasharray="1.9 2.76"/>
<path d="M377.1,378.6 C378.1,380.4 378.0,381.9 380.3,383.9 C382.6,385.8 381.2,383.4 384.0,384.6 C386.8,385.8 385.8,388.0 388.6,387.6 C391.4,387.1 389.9,386.8 392.4,383.3 C394.9,379.8 393.3,380.1 396.1,377.1 C398.9,374.2 398.0,374.8 400.8,374.5 C403.6,374.3 401.7,374.9 404.5,376.4 C407.3,377.9 406.0,379.8 409.1,379.0 C412.3,378.2 411.0,380.3 413.8,374.0 C416.6,367.6 415.4,371.5 417.5,360.0 C419.7,348.5 418.5,355.6 420.3,339.5 C422.2,323.3 421.3,330.2 423.1,311.5 C425.0,292.9 423.9,297.2 425.9,283.6 C428.0,269.9 427.1,271.1 429.3,270.5 C431.5,269.9 430.5,269.9 432.5,281.7 C434.4,293.5 433.4,290.4 435.2,305.9 C437.1,321.5 436.2,315.9 438.0,328.3 C439.9,340.7 439.0,334.5 440.8,343.2 C442.7,351.9 441.8,348.2 443.6,354.4 C445.5,360.6 444.3,356.9 446.4,361.9 C448.6,366.8 447.7,365.7 450.2,369.3 C452.6,372.9 451.1,372.4 453.9,372.7 C456.7,373.0 455.6,372.1 458.6,370.2 C461.5,368.4 459.9,367.5 462.7,367.1 C465.5,366.6 464.0,367.1 466.9,368.9 C469.9,370.8 468.2,371.8 471.6,372.7 C475.0,373.5 474.3,371.7 477.2,371.6 C480.1,371.4 478.2,369.7 480.4,372.1 C482.5,374.5 481.7,374.3 483.7,378.6 C485.8,383.0 484.7,382.1 486.5,385.2 C488.4,388.3 487.1,388.3 489.3,388.0 C491.5,387.6 490.6,388.3 493.0,384.2 C495.5,380.2 494.3,379.9 496.8,375.8 C499.3,371.8 498.0,372.4 500.5,372.1 C503.0,371.8 503.3,374.1 504.2,374.9 C505.1,375.7 502.5,373.7 503.2,374.6 C503.9,375.6 503.9,378.5 506.4,377.8 C508.9,377.1 507.8,376.8 510.7,372.5 C513.5,368.2 512.1,368.9 514.9,365.0 C517.8,361.1 516.3,363.3 519.2,360.8 C522.0,358.2 520.6,357.0 523.4,357.4 C526.3,357.7 524.9,358.6 527.7,361.8 C530.5,365.1 529.1,364.3 532.0,367.2 C534.8,370.0 533.4,367.9 536.2,370.4 C539.1,372.9 537.6,371.8 540.5,374.6 C543.3,377.5 542.3,376.4 544.7,378.9 C547.2,381.4 545.8,380.5 547.9,382.1 C550.1,383.7 549.0,384.1 551.1,383.8 C553.3,383.4 552.3,382.8 554.3,381.0 C556.3,379.2 555.0,379.3 557.1,378.5 C559.2,377.6 558.4,379.7 560.7,378.5 C563.0,377.2 561.8,378.7 563.9,374.6 C566.0,370.5 565.3,370.7 567.1,366.1 C568.9,361.5 567.5,363.6 569.2,360.8 C571.0,357.9 570.7,360.4 572.4,357.6 C574.2,354.7 572.8,359.0 574.6,352.3 C576.3,345.5 575.8,348.0 577.8,337.3 C579.7,326.7 578.8,328.0 580.5,320.3 C582.3,312.6 581.4,314.3 583.1,314.3 C584.8,314.3 583.9,313.3 585.6,320.3 C587.4,327.3 586.6,324.6 588.4,335.2 C590.3,345.9 589.4,342.0 591.2,352.3 C593.0,362.6 592.0,359.0 593.7,366.1 C595.4,373.2 594.5,370.2 596.3,373.6 C598.1,376.9 597.1,376.1 599.1,376.1 C601.1,376.1 600.1,376.5 602.3,373.6 C604.4,370.6 603.0,370.7 605.5,367.2 C607.9,363.6 606.9,364.0 609.7,362.9 C612.6,361.8 611.1,363.1 614.0,364.0 C616.8,364.8 615.4,364.5 618.2,365.5 C621.1,366.4 620.0,365.5 622.5,366.7 C625.0,368.0 623.6,367.2 625.7,369.3 C627.8,371.4 626.8,372.0 628.9,373.1 C631.0,374.3 630.0,372.2 632.1,372.7 C634.2,373.2 632.8,372.6 635.3,374.6 C637.8,376.7 638.1,377.5 639.5,378.9" fill="none" stroke="#000" stroke-width="1.7" stroke-linejoin="round" stroke-linecap="round"/>
<line x1="377.00" y1="354.70" x2="642.70" y2="354.70" stroke="#fb0a12" stroke-width="2.2" />
<line x1="418.80" y1="354.70" x2="443.60" y2="354.70" stroke="#000" stroke-width="2.2" />
<line x1="376.60" y1="229.10" x2="376.60" y2="403.50" stroke="#000" stroke-width="0" />
<line x1="376.60" y1="229.10" x2="376.60" y2="229.10" stroke="#000" stroke-width="0" />
<text font-size="13" text-anchor="end" font-weight="bold" stroke="#000" stroke-width="0.22" x="366.60" y="234.08" >1.5</text>
<line x1="376.60" y1="278.80" x2="376.60" y2="278.80" stroke="#000" stroke-width="0" />
<text font-size="13" text-anchor="end" font-weight="bold" stroke="#000" stroke-width="0.22" x="366.60" y="283.78" >1.0</text>
<line x1="376.60" y1="328.50" x2="376.60" y2="328.50" stroke="#000" stroke-width="0" />
<text font-size="13" text-anchor="end" font-weight="bold" stroke="#000" stroke-width="0.22" x="366.60" y="333.48" >0.5</text>
<line x1="376.60" y1="378.20" x2="376.60" y2="378.20" stroke="#000" stroke-width="0" />
<text font-size="13" text-anchor="end" font-weight="bold" stroke="#000" stroke-width="0.22" x="366.60" y="383.18" >0.0</text>
<line x1="376.60" y1="228.67" x2="376.60" y2="404.43" stroke="#000" stroke-width="1.85" />
<line x1="369.10" y1="229.60" x2="376.60" y2="229.60" stroke="#000" stroke-width="1.85" />
<line x1="369.10" y1="279.30" x2="376.60" y2="279.30" stroke="#000" stroke-width="1.85" />
<line x1="369.10" y1="329.00" x2="376.60" y2="329.00" stroke="#000" stroke-width="1.85" />
<line x1="369.10" y1="378.70" x2="376.60" y2="378.70" stroke="#000" stroke-width="1.85" />
<line x1="375.68" y1="403.50" x2="640.60" y2="403.50" stroke="#000" stroke-width="1.85" />
<line x1="376.60" y1="403.50" x2="376.60" y2="411.00" stroke="#000" stroke-width="1.85" />
<text font-size="13" text-anchor="end" font-weight="bold" stroke="#000" stroke-width="0.22" transform="translate(380.20 421.60) rotate(-45)" >0</text>
<line x1="416.62" y1="403.50" x2="416.62" y2="411.00" stroke="#000" stroke-width="1.85" />
<text font-size="13" text-anchor="end" font-weight="bold" stroke="#000" stroke-width="0.22" transform="translate(420.22 421.60) rotate(-45)" >1</text>
<line x1="456.64" y1="403.50" x2="456.64" y2="411.00" stroke="#000" stroke-width="1.85" />
<text font-size="13" text-anchor="end" font-weight="bold" stroke="#000" stroke-width="0.22" transform="translate(460.24 421.60) rotate(-45)" >2</text>
<line x1="496.66" y1="403.50" x2="496.66" y2="411.00" stroke="#000" stroke-width="1.85" />
<text font-size="13" text-anchor="end" font-weight="bold" stroke="#000" stroke-width="0.22" transform="translate(500.26 421.60) rotate(-45)" >3</text>
<line x1="536.68" y1="403.50" x2="536.68" y2="411.00" stroke="#000" stroke-width="1.85" />
<text font-size="13" text-anchor="end" font-weight="bold" stroke="#000" stroke-width="0.22" transform="translate(540.28 421.60) rotate(-45)" >4</text>
<line x1="576.70" y1="403.50" x2="576.70" y2="411.00" stroke="#000" stroke-width="1.85" />
<text font-size="13" text-anchor="end" font-weight="bold" stroke="#000" stroke-width="0.22" transform="translate(580.30 421.60) rotate(-45)" >5</text>
<line x1="616.72" y1="403.50" x2="616.72" y2="411.00" stroke="#000" stroke-width="1.85" />
<text font-size="13" text-anchor="end" font-weight="bold" stroke="#000" stroke-width="0.22" transform="translate(620.32 421.60) rotate(-45)" >6</text>
<text font-size="14.8" text-anchor="middle" font-weight="bold" stroke="#000" stroke-width="0.22" transform="translate(339.20 316.50) rotate(-90)" >ΔF/F (%)</text>
<text font-size="14.7" text-anchor="middle" font-weight="bold" stroke="#000" stroke-width="0.22" x="508.60" y="448.10" >Time (s)</text>
<text font-size="19" text-anchor="start" font-weight="bold" stroke="#000" stroke-width="0.22" textLength="11.7" lengthAdjust="spacingAndGlyphs" x="327.50" y="249.80" >C</text>
<text font-size="15.5" text-anchor="start" font-weight="bold" textLength="71.6" lengthAdjust="spacingAndGlyphs" x="472.00" y="239.20" stroke="#000" stroke-width="0.3">Frequency</text>
<text font-size="15.5" text-anchor="start" font-weight="bold" textLength="41.9" lengthAdjust="spacingAndGlyphs" x="482.70" y="322.90" stroke="#000" stroke-width="0.3">Width</text>
<text font-size="15.5" text-anchor="start" font-weight="bold" textLength="72" lengthAdjust="spacingAndGlyphs" x="598.80" y="292.20" stroke="#000" stroke-width="0.3">Amplitude</text>
<text font-size="15.5" text-anchor="start" font-weight="bold" textLength="39.2" lengthAdjust="spacingAndGlyphs" x="504.00" y="394.20" stroke="#000" stroke-width="0.3">Noise</text>
<text font-size="15.5" text-anchor="start" font-weight="bold" textLength="39.2" lengthAdjust="spacingAndGlyphs" x="601.60" y="394.20" stroke="#000" stroke-width="0.3">Noise</text>
<line x1="454.60" y1="264.00" x2="470.20" y2="264.00" stroke="#000" stroke-width="2.2" />
<line x1="477.30" y1="264.00" x2="492.90" y2="264.00" stroke="#000" stroke-width="2.2" />
<line x1="500.00" y1="264.00" x2="515.60" y2="264.00" stroke="#000" stroke-width="2.2" />
<line x1="522.70" y1="264.00" x2="538.30" y2="264.00" stroke="#000" stroke-width="2.2" />
<line x1="545.40" y1="264.00" x2="561.00" y2="264.00" stroke="#000" stroke-width="2.2" />
<line x1="436.00" y1="264.00" x2="447.00" y2="264.00" stroke="#000" stroke-width="2.2" />
<line x1="567.90" y1="264.00" x2="577.00" y2="264.00" stroke="#000" stroke-width="2.2" />
<polygon points="428.7,264 437.2,260.2 437.2,267.8"/>
<polygon points="583.4,264 574.9,260.2 574.9,267.8"/>
<line x1="509.30" y1="244.20" x2="509.30" y2="257.40" stroke="#000" stroke-width="2.2" />
<line x1="481.50" y1="325.00" x2="441.44" y2="345.16" stroke="#000" stroke-width="3.0" />
<polygon points="433.4,349.2 439.2,340.7 443.7,349.6"/>
<line x1="599.70" y1="295.60" x2="589.84" y2="306.02" stroke="#000" stroke-width="3.0" />
<polygon points="584.0,312.2 586.2,302.6 593.5,309.5"/>
<line x1="127.75" y1="615.90" x2="127.75" y2="618.20" stroke="#000" stroke-width="1.2" />
<line x1="120.25" y1="615.90" x2="135.25" y2="615.90" stroke="#000" stroke-width="1.2" />
<rect x="112.30" y="617.20" width="30.90" height="20.34" fill="#000"/>
<line x1="173.70" y1="578.00" x2="173.70" y2="581.00" stroke="#000" stroke-width="1.2" />
<line x1="166.20" y1="578.00" x2="181.20" y2="578.00" stroke="#000" stroke-width="1.2" />
<rect x="158.40" y="580.00" width="30.60" height="57.54" fill="#0ccbf8"/>
<line x1="96.65" y1="474.77" x2="96.65" y2="638.46" stroke="#000" stroke-width="1.85" />
<line x1="89.15" y1="475.70" x2="96.65" y2="475.70" stroke="#000" stroke-width="1.85" />
<text font-size="12.3" text-anchor="end" font-weight="bold" stroke="#000" stroke-width="0.22" x="88.45" y="480.43" >240</text>
<line x1="89.15" y1="495.93" x2="96.65" y2="495.93" stroke="#000" stroke-width="1.85" />
<text font-size="12.3" text-anchor="end" font-weight="bold" stroke="#000" stroke-width="0.22" x="88.45" y="500.66" >220</text>
<line x1="89.15" y1="516.16" x2="96.65" y2="516.16" stroke="#000" stroke-width="1.85" />
<text font-size="12.3" text-anchor="end" font-weight="bold" stroke="#000" stroke-width="0.22" x="88.45" y="520.89" >200</text>
<line x1="89.15" y1="536.39" x2="96.65" y2="536.39" stroke="#000" stroke-width="1.85" />
<text font-size="12.3" text-anchor="end" font-weight="bold" stroke="#000" stroke-width="0.22" x="88.45" y="541.12" >180</text>
<line x1="89.15" y1="556.62" x2="96.65" y2="556.62" stroke="#000" stroke-width="1.85" />
<text font-size="12.3" text-anchor="end" font-weight="bold" stroke="#000" stroke-width="0.22" x="88.45" y="561.35" >160</text>
<line x1="89.15" y1="576.85" x2="96.65" y2="576.85" stroke="#000" stroke-width="1.85" />
<text font-size="12.3" text-anchor="end" font-weight="bold" stroke="#000" stroke-width="0.22" x="88.45" y="581.58" >140</text>
<line x1="89.15" y1="597.08" x2="96.65" y2="597.08" stroke="#000" stroke-width="1.85" />
<text font-size="12.3" text-anchor="end" font-weight="bold" stroke="#000" stroke-width="0.22" x="88.45" y="601.81" >120</text>
<line x1="89.15" y1="617.31" x2="96.65" y2="617.31" stroke="#000" stroke-width="1.85" />
<text font-size="12.3" text-anchor="end" font-weight="bold" stroke="#000" stroke-width="0.22" x="88.45" y="622.04" >100</text>
<line x1="89.15" y1="637.54" x2="96.65" y2="637.54" stroke="#000" stroke-width="1.85" />
<text font-size="12.3" text-anchor="end" font-weight="bold" stroke="#000" stroke-width="0.22" x="88.45" y="642.27" >80</text>
<line x1="95.73" y1="637.54" x2="205.80" y2="637.54" stroke="#000" stroke-width="1.85" />
<line x1="127.30" y1="637.54" x2="127.30" y2="645.04" stroke="#000" stroke-width="1.85" />
<text font-size="12.3" text-anchor="end" font-weight="bold" stroke="#000" stroke-width="0.22" transform="translate(131.10 654.84) rotate(-45)" >Saline</text>
<line x1="173.60" y1="637.54" x2="173.60" y2="645.04" stroke="#000" stroke-width="1.85" />
<text font-size="12.3" text-anchor="end" font-weight="bold" stroke="#000" stroke-width="0.22" transform="translate(177.40 654.84) rotate(-45)" >Raclopride</text>
<polyline points="127.30,606.80 127.30,558.90 173.60,558.90 173.60,569.30" fill="none" stroke="#000" stroke-width="1.6"/>
<text x="136.67" y="555.07" font-size="15" text-anchor="middle" font-weight="bold" stroke="#000" stroke-width="0.25" font-family="DejaVu Sans, sans-serif">*</text>
<text x="146.02" y="555.07" font-size="15" text-anchor="middle" font-weight="bold" stroke="#000" stroke-width="0.25" font-family="DejaVu Sans, sans-serif">*</text>
<text x="155.38" y="555.07" font-size="15" text-anchor="middle" font-weight="bold" stroke="#000" stroke-width="0.25" font-family="DejaVu Sans, sans-serif">*</text>
<text x="164.72" y="555.07" font-size="15" text-anchor="middle" font-weight="bold" stroke="#000" stroke-width="0.25" font-family="DejaVu Sans, sans-serif">*</text>
<text font-size="13.2" text-anchor="middle" font-weight="bold" stroke="#000" stroke-width="0.22" transform="translate(43.90 556.50) rotate(-90)" >Amplitude</text>
<text font-size="13.2" text-anchor="middle" font-weight="bold" stroke="#000" stroke-width="0.22" transform="translate(59.00 555.80) rotate(-90)" >(% normalized to saline)</text>
<text font-size="17.8" text-anchor="start" font-weight="bold" stroke="#000" stroke-width="0.22" x="32.50" y="472.80" >D</text>
<line x1="316.20" y1="614.60" x2="316.20" y2="618.20" stroke="#000" stroke-width="1.2" />
<line x1="308.70" y1="614.60" x2="323.70" y2="614.60" stroke="#000" stroke-width="1.2" />
<rect x="300.90" y="617.20" width="30.60" height="20.34" fill="#000"/>
<line x1="362.35" y1="495.50" x2="362.35" y2="502.00" stroke="#000" stroke-width="1.2" />
<line x1="354.85" y1="495.50" x2="369.85" y2="495.50" stroke="#000" stroke-width="1.2" />
<rect x="346.90" y="501.00" width="30.90" height="136.54" fill="#0ccbf8"/>
<line x1="285.45" y1="474.77" x2="285.45" y2="638.46" stroke="#000" stroke-width="1.85" />
<line x1="277.95" y1="475.70" x2="285.45" y2="475.70" stroke="#000" stroke-width="1.85" />
<text font-size="12.3" text-anchor="end" font-weight="bold" stroke="#000" stroke-width="0.22" x="277.25" y="480.43" >240</text>
<line x1="277.95" y1="495.93" x2="285.45" y2="495.93" stroke="#000" stroke-width="1.85" />
<text font-size="12.3" text-anchor="end" font-weight="bold" stroke="#000" stroke-width="0.22" x="277.25" y="500.66" >220</text>
<line x1="277.95" y1="516.16" x2="285.45" y2="516.16" stroke="#000" stroke-width="1.85" />
<text font-size="12.3" text-anchor="end" font-weight="bold" stroke="#000" stroke-width="0.22" x="277.25" y="520.89" >200</text>
<line x1="277.95" y1="536.39" x2="285.45" y2="536.39" stroke="#000" stroke-width="1.85" />
<text font-size="12.3" text-anchor="end" font-weight="bold" stroke="#000" stroke-width="0.22" x="277.25" y="541.12" >180</text>
<line x1="277.95" y1="556.62" x2="285.45" y2="556.62" stroke="#000" stroke-width="1.85" />
<text font-size="12.3" text-anchor="end" font-weight="bold" stroke="#000" stroke-width="0.22" x="277.25" y="561.35" >160</text>
<line x1="277.95" y1="576.85" x2="285.45" y2="576.85" stroke="#000" stroke-width="1.85" />
<text font-size="12.3" text-anchor="end" font-weight="bold" stroke="#000" stroke-width="0.22" x="277.25" y="581.58" >140</text>
<line x1="277.95" y1="597.08" x2="285.45" y2="597.08" stroke="#000" stroke-width="1.85" />
<text font-size="12.3" text-anchor="end" font-weight="bold" stroke="#000" stroke-width="0.22" x="277.25" y="601.81" >120</text>
<line x1="277.95" y1="617.31" x2="285.45" y2="617.31" stroke="#000" stroke-width="1.85" />
<text font-size="12.3" text-anchor="end" font-weight="bold" stroke="#000" stroke-width="0.22" x="277.25" y="622.04" >100</text>
<line x1="277.95" y1="637.54" x2="285.45" y2="637.54" stroke="#000" stroke-width="1.85" />
<text font-size="12.3" text-anchor="end" font-weight="bold" stroke="#000" stroke-width="0.22" x="277.25" y="642.27" >80</text>
<line x1="284.52" y1="637.54" x2="394.40" y2="637.54" stroke="#000" stroke-width="1.85" />
<line x1="315.90" y1="637.54" x2="315.90" y2="645.04" stroke="#000" stroke-width="1.85" />
<text font-size="12.3" text-anchor="end" font-weight="bold" stroke="#000" stroke-width="0.22" transform="translate(319.70 654.84) rotate(-45)" >Saline</text>
<line x1="362.30" y1="637.54" x2="362.30" y2="645.04" stroke="#000" stroke-width="1.85" />
<text font-size="12.3" text-anchor="end" font-weight="bold" stroke="#000" stroke-width="0.22" transform="translate(366.10 654.84) rotate(-45)" >Raclopride</text>
<polyline points="315.90,606.00 315.90,476.70 362.30,476.70 362.30,486.60" fill="none" stroke="#000" stroke-width="1.6"/>
<text x="325.28" y="472.87" font-size="15" text-anchor="middle" font-weight="bold" stroke="#000" stroke-width="0.25" font-family="DejaVu Sans, sans-serif">*</text>
<text x="334.62" y="472.87" font-size="15" text-anchor="middle" font-weight="bold" stroke="#000" stroke-width="0.25" font-family="DejaVu Sans, sans-serif">*</text>
<text x="343.98" y="472.87" font-size="15" text-anchor="middle" font-weight="bold" stroke="#000" stroke-width="0.25" font-family="DejaVu Sans, sans-serif">*</text>
<text x="353.32" y="472.87" font-size="15" text-anchor="middle" font-weight="bold" stroke="#000" stroke-width="0.25" font-family="DejaVu Sans, sans-serif">*</text>
<text font-size="13.2" text-anchor="middle" font-weight="bold" stroke="#000" stroke-width="0.22" transform="translate(232.20 556.60) rotate(-90)" >Width</text>
<text font-size="13.2" text-anchor="middle" font-weight="bold" stroke="#000" stroke-width="0.22" transform="translate(247.50 555.80) rotate(-90)" >(% normalized to saline)</text>
<text font-size="17.5" text-anchor="start" font-weight="bold" stroke="#000" stroke-width="0.22" x="220.00" y="472.30" >E</text>
<line x1="483.95" y1="580.50" x2="483.95" y2="584.00" stroke="#000" stroke-width="1.2" />
<line x1="476.45" y1="580.50" x2="491.45" y2="580.50" stroke="#000" stroke-width="1.2" />
<rect x="468.50" y="583.00" width="30.90" height="53.75" fill="#000"/>
<line x1="530.00" y1="606.30" x2="530.00" y2="610.60" stroke="#000" stroke-width="1.2" />
<line x1="522.50" y1="606.30" x2="537.50" y2="606.30" stroke="#000" stroke-width="1.2" />
<rect x="514.60" y="609.60" width="30.80" height="27.15" fill="#00c000"/>
<line x1="453.40" y1="473.97" x2="453.40" y2="637.67" stroke="#000" stroke-width="1.85" />
<line x1="445.90" y1="474.90" x2="453.40" y2="474.90" stroke="#000" stroke-width="1.85" />
<text font-size="12.3" text-anchor="end" font-weight="bold" stroke="#000" stroke-width="0.22" x="445.20" y="479.63" >140</text>
<line x1="445.90" y1="528.85" x2="453.40" y2="528.85" stroke="#000" stroke-width="1.85" />
<text font-size="12.3" text-anchor="end" font-weight="bold" stroke="#000" stroke-width="0.22" x="445.20" y="533.58" >120</text>
<line x1="445.90" y1="582.80" x2="453.40" y2="582.80" stroke="#000" stroke-width="1.85" />
<text font-size="12.3" text-anchor="end" font-weight="bold" stroke="#000" stroke-width="0.22" x="445.20" y="587.53" >100</text>
<line x1="445.90" y1="636.75" x2="453.40" y2="636.75" stroke="#000" stroke-width="1.85" />
<text font-size="12.3" text-anchor="end" font-weight="bold" stroke="#000" stroke-width="0.22" x="445.20" y="641.48" >80</text>
<line x1="452.47" y1="636.75" x2="562.10" y2="636.75" stroke="#000" stroke-width="1.85" />
<line x1="484.00" y1="636.75" x2="484.00" y2="644.25" stroke="#000" stroke-width="1.85" />
<text font-size="12.3" text-anchor="end" font-weight="bold" stroke="#000" stroke-width="0.22" transform="translate(487.80 654.05) rotate(-45)" >Saline</text>
<line x1="530.20" y1="636.75" x2="530.20" y2="644.25" stroke="#000" stroke-width="1.85" />
<text font-size="12.3" text-anchor="end" font-weight="bold" stroke="#000" stroke-width="0.22" transform="translate(534.00 654.05) rotate(-45)" >Cocaine</text>
<polyline points="484.00,571.40 484.00,561.40 530.20,561.40 530.20,597.20" fill="none" stroke="#000" stroke-width="1.6"/>
<text x="493.28" y="557.57" font-size="15" text-anchor="middle" font-weight="bold" stroke="#000" stroke-width="0.25" font-family="DejaVu Sans, sans-serif">*</text>
<text x="502.62" y="557.57" font-size="15" text-anchor="middle" font-weight="bold" stroke="#000" stroke-width="0.25" font-family="DejaVu Sans, sans-serif">*</text>
<text x="511.98" y="557.57" font-size="15" text-anchor="middle" font-weight="bold" stroke="#000" stroke-width="0.25" font-family="DejaVu Sans, sans-serif">*</text>
<text x="521.33" y="557.57" font-size="15" text-anchor="middle" font-weight="bold" stroke="#000" stroke-width="0.25" font-family="DejaVu Sans, sans-serif">*</text>
<text font-size="13.2" text-anchor="middle" font-weight="bold" stroke="#000" stroke-width="0.22" transform="translate(400.50 555.20) rotate(-90)" >Amplitude</text>
<text font-size="13.2" text-anchor="middle" font-weight="bold" stroke="#000" stroke-width="0.22" transform="translate(415.60 555.50) rotate(-90)" >(% normalized to saline)</text>
<text font-size="17.5" text-anchor="start" font-weight="bold" stroke="#000" stroke-width="0.22" x="394.00" y="472.50" >F</text>
<line x1="670.90" y1="577.60" x2="670.90" y2="585.40" stroke="#000" stroke-width="1.2" />
<line x1="663.40" y1="577.60" x2="678.40" y2="577.60" stroke="#000" stroke-width="1.2" />
<rect x="655.60" y="584.40" width="30.60" height="53.75" fill="#000"/>
<line x1="717.00" y1="479.50" x2="717.00" y2="493.10" stroke="#000" stroke-width="1.2" />
<line x1="709.50" y1="479.50" x2="724.50" y2="479.50" stroke="#000" stroke-width="1.2" />
<rect x="701.70" y="492.10" width="30.60" height="146.05" fill="#00c000"/>
<line x1="639.70" y1="475.97" x2="639.70" y2="639.07" stroke="#000" stroke-width="1.85" />
<line x1="632.20" y1="476.90" x2="639.70" y2="476.90" stroke="#000" stroke-width="1.85" />
<text font-size="12.3" text-anchor="end" font-weight="bold" stroke="#000" stroke-width="0.22" x="631.50" y="481.63" >140</text>
<line x1="632.20" y1="530.65" x2="639.70" y2="530.65" stroke="#000" stroke-width="1.85" />
<text font-size="12.3" text-anchor="end" font-weight="bold" stroke="#000" stroke-width="0.22" x="631.50" y="535.38" >120</text>
<line x1="632.20" y1="584.40" x2="639.70" y2="584.40" stroke="#000" stroke-width="1.85" />
<text font-size="12.3" text-anchor="end" font-weight="bold" stroke="#000" stroke-width="0.22" x="631.50" y="589.13" >100</text>
<line x1="632.20" y1="638.15" x2="639.70" y2="638.15" stroke="#000" stroke-width="1.85" />
<text font-size="12.3" text-anchor="end" font-weight="bold" stroke="#000" stroke-width="0.22" x="631.50" y="642.88" >80</text>
<line x1="638.78" y1="638.15" x2="749.00" y2="638.15" stroke="#000" stroke-width="1.85" />
<line x1="670.60" y1="638.15" x2="670.60" y2="645.65" stroke="#000" stroke-width="1.85" />
<text font-size="12.3" text-anchor="end" font-weight="bold" stroke="#000" stroke-width="0.22" transform="translate(674.40 655.45) rotate(-45)" >Saline</text>
<line x1="717.10" y1="638.15" x2="717.10" y2="645.65" stroke="#000" stroke-width="1.85" />
<text font-size="12.3" text-anchor="end" font-weight="bold" stroke="#000" stroke-width="0.22" transform="translate(720.90 655.45) rotate(-45)" >Cocaine</text>
<polyline points="670.60,569.00 670.60,460.40 717.10,460.40 717.10,470.40" fill="none" stroke="#000" stroke-width="1.6"/>
<text x="680.08" y="456.87" font-size="15" text-anchor="middle" font-weight="bold" stroke="#000" stroke-width="0.25" font-family="DejaVu Sans, sans-serif">*</text>
<text x="689.43" y="456.87" font-size="15" text-anchor="middle" font-weight="bold" stroke="#000" stroke-width="0.25" font-family="DejaVu Sans, sans-serif">*</text>
<text x="698.77" y="456.87" font-size="15" text-anchor="middle" font-weight="bold" stroke="#000" stroke-width="0.25" font-family="DejaVu Sans, sans-serif">*</text>
<text x="708.12" y="456.87" font-size="15" text-anchor="middle" font-weight="bold" stroke="#000" stroke-width="0.25" font-family="DejaVu Sans, sans-serif">*</text>
<text font-size="13.2" text-anchor="middle" font-weight="bold" stroke="#000" stroke-width="0.22" transform="translate(588.20 557.60) rotate(-90)" >Width</text>
<text font-size="13.2" text-anchor="middle" font-weight="bold" stroke="#000" stroke-width="0.22" transform="translate(603.50 556.70) rotate(-90)" >(% normalized to saline)</text>
<text font-size="17.5" text-anchor="start" font-weight="bold" stroke="#000" stroke-width="0.22" x="565.50" y="472.80" >G</text>
<polygon points="166.4,853.3 172.4,853.3 169.4,847.6" fill="#00c000"/>
<polygon points="125.8,859.0 131.8,859.0 128.8,853.3" fill="#00c000"/>
<polygon points="128.4,868.5 134.4,868.5 131.4,862.8" fill="#00c000"/>
<polygon points="142.2,869.7 148.2,869.7 145.2,864.0" fill="#00c000"/>
<polygon points="150.9,868.9 156.9,868.9 153.9,863.2" fill="#00c000"/>
<polygon points="145.7,865.4 151.7,865.4 148.7,859.7" fill="#00c000"/>
<polygon points="124.0,874.1 130.0,874.1 127.0,868.4" fill="#00c000"/>
<polygon points="115.4,877.0 121.4,877.0 118.4,871.3" fill="#00c000"/>
<polygon points="109.3,882.7 115.3,882.7 112.3,877.0" fill="#00c000"/>
<polygon points="111.9,882.7 117.9,882.7 114.9,877.0" fill="#00c000"/>
<polygon points="98.9,886.2 104.9,886.2 101.9,880.5" fill="#00c000"/>
<polygon points="94.6,887.0 100.6,887.0 97.6,881.3" fill="#00c000"/>
<polygon points="86.5,892.2 92.5,892.2 89.5,886.5" fill="#00c000"/>
<polygon points="73.0,893.1 79.0,893.1 76.0,887.4" fill="#00c000"/>
<polygon points="79.0,882.7 85.0,882.7 82.0,877.0" fill="#00c000"/>
<polygon points="80.8,885.3 86.8,885.3 83.8,879.6" fill="#00c000"/>
<polygon points="90.3,888.8 96.3,888.8 93.3,883.1" fill="#00c000"/>
<polygon points="104.1,884.4 110.1,884.4 107.1,878.7" fill="#00c000"/>
<polygon points="119.7,873.2 125.7,873.2 122.7,867.5" fill="#00c000"/>
<polygon points="133.6,868.9 139.6,868.9 136.6,863.2" fill="#00c000"/>
<polygon points="137.0,867.1 143.0,867.1 140.0,861.4" fill="#00c000"/>
<polygon points="157.8,861.9 163.8,861.9 160.8,856.2" fill="#00c000"/>
<polygon points="83.4,889.6 89.4,889.6 86.4,883.9" fill="#00c000"/>
<polygon points="76.4,892.2 82.4,892.2 79.4,886.5" fill="#00c000"/>
<polygon points="166.9,853.4 172.9,853.4 169.9,847.7" fill="#00c000"/>
<polygon points="150.4,869.7 156.4,869.7 153.4,864.0" fill="#00c000"/>
<line x1="74.20" y1="889.50" x2="169.60" y2="856.20" stroke="#00c000" stroke-width="2.5" stroke-linecap="round"/>
<polygon points="124.0,795.1 130.0,795.1 127.0,800.8" fill="#0ccbf8"/>
<polygon points="118.3,800.3 124.3,800.3 121.3,806.0" fill="#0ccbf8"/>
<polygon points="119.7,810.7 125.7,810.7 122.7,816.4" fill="#0ccbf8"/>
<polygon points="132.7,811.5 138.7,811.5 135.7,817.2" fill="#0ccbf8"/>
<polygon points="114.5,819.3 120.5,819.3 117.5,825.0" fill="#0ccbf8"/>
<polygon points="115.9,822.8 121.9,822.8 118.9,828.5" fill="#0ccbf8"/>
<polygon points="105.5,821.1 111.5,821.1 108.5,826.8" fill="#0ccbf8"/>
<polygon points="104.1,824.5 110.1,824.5 107.1,830.2" fill="#0ccbf8"/>
<polygon points="129.7,819.7 135.7,819.7 132.7,825.4" fill="#0ccbf8"/>
<polygon points="143.9,819.8 149.9,819.8 146.9,825.5" fill="#0ccbf8"/>
<polygon points="100.7,830.6 106.7,830.6 103.7,836.3" fill="#0ccbf8"/>
<polygon points="92.9,834.0 98.9,834.0 95.9,839.7" fill="#0ccbf8"/>
<polygon points="88.5,837.8 94.5,837.8 91.5,843.5" fill="#0ccbf8"/>
<polygon points="84.2,840.6 90.2,840.6 87.2,846.3" fill="#0ccbf8"/>
<polygon points="114.5,834.4 120.5,834.4 117.5,840.1" fill="#0ccbf8"/>
<polygon points="127.5,834.0 133.5,834.0 130.5,839.7" fill="#0ccbf8"/>
<polygon points="105.0,835.8 111.0,835.8 108.0,841.5" fill="#0ccbf8"/>
<polygon points="108.5,838.9 114.5,838.9 111.5,844.6" fill="#0ccbf8"/>
<polygon points="97.2,840.1 103.2,840.1 100.2,845.8" fill="#0ccbf8"/>
<polygon points="99.8,840.1 105.8,840.1 102.8,845.8" fill="#0ccbf8"/>
<polygon points="102.4,841.0 108.4,841.0 105.4,846.7" fill="#0ccbf8"/>
<polygon points="93.7,841.3 99.7,841.3 96.7,847.0" fill="#0ccbf8"/>
<polygon points="91.1,846.2 97.1,846.2 94.1,851.9" fill="#0ccbf8"/>
<polygon points="120.2,844.1 126.2,844.1 123.2,849.8" fill="#0ccbf8"/>
<polygon points="142.2,839.2 148.2,839.2 145.2,844.9" fill="#0ccbf8"/>
<polygon points="133.6,843.6 139.6,843.6 136.6,849.3" fill="#0ccbf8"/>
<polygon points="112.3,847.9 118.3,847.9 115.3,853.6" fill="#0ccbf8"/>
<polygon points="101.5,850.5 107.5,850.5 104.5,856.2" fill="#0ccbf8"/>
<polygon points="82.8,851.0 88.8,851.0 85.8,856.7" fill="#0ccbf8"/>
<polygon points="88.5,852.2 94.5,852.2 91.5,857.9" fill="#0ccbf8"/>
<polygon points="98.9,853.9 104.9,853.9 101.9,859.6" fill="#0ccbf8"/>
<polygon points="106.7,855.7 112.7,855.7 109.7,861.4" fill="#0ccbf8"/>
<polygon points="128.4,851.7 134.4,851.7 131.4,857.4" fill="#0ccbf8"/>
<polygon points="134.8,853.1 140.8,853.1 137.8,858.8" fill="#0ccbf8"/>
<polygon points="137.9,855.7 143.9,855.7 140.9,861.4" fill="#0ccbf8"/>
<polygon points="141.0,856.5 147.0,856.5 144.0,862.2" fill="#0ccbf8"/>
<polygon points="153.5,853.1 159.5,853.1 156.5,858.8" fill="#0ccbf8"/>
<polygon points="158.3,845.8 164.3,845.8 161.3,851.5" fill="#0ccbf8"/>
<polygon points="175.4,853.4 181.4,853.4 178.4,859.1" fill="#0ccbf8"/>
<polygon points="170.8,862.6 176.8,862.6 173.8,868.3" fill="#0ccbf8"/>
<polygon points="148.6,862.9 154.6,862.9 151.6,868.6" fill="#0ccbf8"/>
<polygon points="118.0,856.5 124.0,856.5 121.0,862.2" fill="#0ccbf8"/>
<polygon points="117.1,860.0 123.1,860.0 120.1,865.7" fill="#0ccbf8"/>
<polygon points="113.6,862.6 119.6,862.6 116.6,868.3" fill="#0ccbf8"/>
<polygon points="107.6,863.5 113.6,863.5 110.6,869.2" fill="#0ccbf8"/>
<polygon points="98.9,861.7 104.9,861.7 101.9,867.4" fill="#0ccbf8"/>
<polygon points="93.7,861.7 99.7,861.7 96.7,867.4" fill="#0ccbf8"/>
<polygon points="91.1,859.1 97.1,859.1 94.1,864.8" fill="#0ccbf8"/>
<polygon points="87.7,853.9 93.7,853.9 90.7,859.6" fill="#0ccbf8"/>
<polygon points="94.6,866.1 100.6,866.1 97.6,871.8" fill="#0ccbf8"/>
<polygon points="98.1,867.8 104.1,867.8 101.1,873.5" fill="#0ccbf8"/>
<polygon points="104.1,867.8 110.1,867.8 107.1,873.5" fill="#0ccbf8"/>
<polygon points="108.5,868.7 114.5,868.7 111.5,874.4" fill="#0ccbf8"/>
<polygon points="117.1,866.9 123.1,866.9 120.1,872.6" fill="#0ccbf8"/>
<polygon points="119.7,872.1 125.7,872.1 122.7,877.8" fill="#0ccbf8"/>
<polygon points="122.3,876.4 128.3,876.4 125.3,882.1" fill="#0ccbf8"/>
<polygon points="114.5,873.9 120.5,873.9 117.5,879.6" fill="#0ccbf8"/>
<polygon points="103.3,870.4 109.3,870.4 106.3,876.1" fill="#0ccbf8"/>
<polygon points="95.5,872.1 101.5,872.1 98.5,877.8" fill="#0ccbf8"/>
<polygon points="92.9,870.4 98.9,870.4 95.9,876.1" fill="#0ccbf8"/>
<polygon points="75.0,867.8 81.0,867.8 78.0,873.5" fill="#0ccbf8"/>
<polygon points="85.1,863.5 91.1,863.5 88.1,869.2" fill="#0ccbf8"/>
<polygon points="96.3,859.1 102.3,859.1 99.3,864.8" fill="#0ccbf8"/>
<polygon points="100.7,864.3 106.7,864.3 103.7,870.0" fill="#0ccbf8"/>
<polygon points="105.9,860.0 111.9,860.0 108.9,865.7" fill="#0ccbf8"/>
<polygon points="110.2,866.1 116.2,866.1 113.2,871.8" fill="#0ccbf8"/>
<polygon points="90.3,865.2 96.3,865.2 93.3,870.9" fill="#0ccbf8"/>
<polygon points="86.8,860.0 92.8,860.0 89.8,865.7" fill="#0ccbf8"/>
<polygon points="111.9,858.3 117.9,858.3 114.9,864.0" fill="#0ccbf8"/>
<polygon points="102.4,856.5 108.4,856.5 105.4,862.2" fill="#0ccbf8"/>
<polygon points="97.2,849.6 103.2,849.6 100.2,855.3" fill="#0ccbf8"/>
<polygon points="93.7,855.7 99.7,855.7 96.7,861.4" fill="#0ccbf8"/>
<polygon points="189.3,763.6 195.3,763.6 192.3,769.3" fill="#0ccbf8"/>
<polygon points="216.5,766.8 222.5,766.8 219.5,772.5" fill="#0ccbf8"/>
<polygon points="221.7,781.9 227.7,781.9 224.7,787.6" fill="#0ccbf8"/>
<polygon points="268.3,812.9 274.3,812.9 271.3,818.6" fill="#0ccbf8"/>
<polygon points="219.4,820.2 225.4,820.2 222.4,825.9" fill="#0ccbf8"/>
<polygon points="214.2,823.8 220.2,823.8 217.2,829.5" fill="#0ccbf8"/>
<polygon points="158.3,845.8 164.3,845.8 161.3,851.5" fill="#0ccbf8"/>
<polygon points="153.3,852.8 159.3,852.8 156.3,858.5" fill="#0ccbf8"/>
<polygon points="176.0,853.0 182.0,853.0 179.0,858.7" fill="#0ccbf8"/>
<polygon points="170.8,862.7 176.8,862.7 173.8,868.4" fill="#0ccbf8"/>
<polygon points="153.3,858.2 159.3,858.2 156.3,863.9" fill="#0ccbf8"/>
<polygon points="148.1,863.2 154.1,863.2 151.1,868.9" fill="#0ccbf8"/>
<line x1="84.00" y1="877.60" x2="271.80" y2="772.00" stroke="#0ccbf8" stroke-width="2.6" stroke-linecap="round"/>
<polygon points="56.6,887.5 56.6,895 66,894.2 77,889.5 78.5,875 71,870.5 63,878" fill="#000"/>
<rect x="57.8" y="888.3" width="5.2" height="5.2" fill="#000"/>
<rect x="66.8" y="886.4" width="5.2" height="5.2" fill="#000"/>
<rect x="58.2" y="886.8" width="5.2" height="5.2" fill="#000"/>
<rect x="56.7" y="889.8" width="5.2" height="5.2" fill="#000"/>
<rect x="73.4" y="872.9" width="5.2" height="5.2" fill="#000"/>
<rect x="62.4" y="884.4" width="5.2" height="5.2" fill="#000"/>
<rect x="68.0" y="882.8" width="5.2" height="5.2" fill="#000"/>
<rect x="58.0" y="887.4" width="5.2" height="5.2" fill="#000"/>
<rect x="68.1" y="879.5" width="5.2" height="5.2" fill="#000"/>
<rect x="70.9" y="876.5" width="5.2" height="5.2" fill="#000"/>
<rect x="74.0" y="880.5" width="5.2" height="5.2" fill="#000"/>
<rect x="65.9" y="881.7" width="5.2" height="5.2" fill="#000"/>
<rect x="62.1" y="884.1" width="5.2" height="5.2" fill="#000"/>
<rect x="59.9" y="885.2" width="5.2" height="5.2" fill="#000"/>
<rect x="71.9" y="883.0" width="5.2" height="5.2" fill="#000"/>
<rect x="64.3" y="885.0" width="5.2" height="5.2" fill="#000"/>
<rect x="57.0" y="888.4" width="5.2" height="5.2" fill="#000"/>
<rect x="63.6" y="886.6" width="5.2" height="5.2" fill="#000"/>
<rect x="68.2" y="883.6" width="5.2" height="5.2" fill="#000"/>
<rect x="72.5" y="881.1" width="5.2" height="5.2" fill="#000"/>
<rect x="56.0" y="890.1" width="5.2" height="5.2" fill="#000"/>
<rect x="62.0" y="885.1" width="5.2" height="5.2" fill="#000"/>
<rect x="72.6" y="872.3" width="5.2" height="5.2" fill="#000"/>
<rect x="61.8" y="888.2" width="5.2" height="5.2" fill="#000"/>
<rect x="58.4" y="886.3" width="5.2" height="5.2" fill="#000"/>
<rect x="64.1" y="881.3" width="5.2" height="5.2" fill="#000"/>
<rect x="56.4" y="890.0" width="5.2" height="5.2" fill="#000"/>
<rect x="71.5" y="875.4" width="5.2" height="5.2" fill="#000"/>
<rect x="61.3" y="886.6" width="5.2" height="5.2" fill="#000"/>
<rect x="57.1" y="889.6" width="5.2" height="5.2" fill="#000"/>
<rect x="55.9" y="889.8" width="5.2" height="5.2" fill="#000"/>
<rect x="64.3" y="886.4" width="5.2" height="5.2" fill="#000"/>
<rect x="69.4" y="883.1" width="5.2" height="5.2" fill="#000"/>
<rect x="56.6" y="889.3" width="5.2" height="5.2" fill="#000"/>
<rect x="72.4" y="884.5" width="5.2" height="5.2" fill="#000"/>
<rect x="70.7" y="882.5" width="5.2" height="5.2" fill="#000"/>
<rect x="57.2" y="889.8" width="5.2" height="5.2" fill="#000"/>
<rect x="61.0" y="884.4" width="5.2" height="5.2" fill="#000"/>
<rect x="64.8" y="879.0" width="5.2" height="5.2" fill="#000"/>
<rect x="59.5" y="887.7" width="5.2" height="5.2" fill="#000"/>
<rect x="60.3" y="883.8" width="5.2" height="5.2" fill="#000"/>
<rect x="73.3" y="878.3" width="5.2" height="5.2" fill="#000"/>
<rect x="63.7" y="885.0" width="5.2" height="5.2" fill="#000"/>
<rect x="69.6" y="885.3" width="5.2" height="5.2" fill="#000"/>
<rect x="56.7" y="889.5" width="5.2" height="5.2" fill="#000"/>
<rect x="60.1" y="884.8" width="5.2" height="5.2" fill="#000"/>
<rect x="69.5" y="877.9" width="5.2" height="5.2" fill="#000"/>
<rect x="68.0" y="877.3" width="5.2" height="5.2" fill="#000"/>
<rect x="70.2" y="871.2" width="5.2" height="5.2" fill="#000"/>
<rect x="58.2" y="887.6" width="5.2" height="5.2" fill="#000"/>
<rect x="58.1" y="888.3" width="5.2" height="5.2" fill="#000"/>
<rect x="70.3" y="871.6" width="5.2" height="5.2" fill="#000"/>
<rect x="69.8" y="885.3" width="5.2" height="5.2" fill="#000"/>
<rect x="62.2" y="887.1" width="5.2" height="5.2" fill="#000"/>
<rect x="74.4" y="881.5" width="5.2" height="5.2" fill="#000"/>
<rect x="60.0" y="887.2" width="5.2" height="5.2" fill="#000"/>
<rect x="56.6" y="889.0" width="5.2" height="5.2" fill="#000"/>
<rect x="67.5" y="884.5" width="5.2" height="5.2" fill="#000"/>
<rect x="64.9" y="886.6" width="5.2" height="5.2" fill="#000"/>
<rect x="67.0" y="883.9" width="5.2" height="5.2" fill="#000"/>
<rect x="113.9" y="841.5" width="5.4" height="5.4" fill="#000"/>
<rect x="95.4" y="854.8" width="5.4" height="5.4" fill="#000"/>
<rect x="74.6" y="863.5" width="5.4" height="5.4" fill="#000"/>
<rect x="80.7" y="862.6" width="5.4" height="5.4" fill="#000"/>
<rect x="111.7" y="873.0" width="5.4" height="5.4" fill="#000"/>
<rect x="100.1" y="876.4" width="5.4" height="5.4" fill="#000"/>
<rect x="89.7" y="875.6" width="5.4" height="5.4" fill="#000"/>
<rect x="86.6" y="881.6" width="5.4" height="5.4" fill="#000"/>
<rect x="75.9" y="873.0" width="5.4" height="5.4" fill="#000"/>
<rect x="81.9" y="873.0" width="5.4" height="5.4" fill="#000"/>
<rect x="88.3" y="868.7" width="5.4" height="5.4" fill="#000"/>
<rect x="79.0" y="884.2" width="5.4" height="5.4" fill="#000"/>
<rect x="68.1" y="871.3" width="5.4" height="5.4" fill="#000"/>
<rect x="71.5" y="873.9" width="5.4" height="5.4" fill="#000"/>
<rect x="66.3" y="875.6" width="5.4" height="5.4" fill="#000"/>
<rect x="63.7" y="878.2" width="5.4" height="5.4" fill="#000"/>
<rect x="73.3" y="880.8" width="5.4" height="5.4" fill="#000"/>
<rect x="69.8" y="883.4" width="5.4" height="5.4" fill="#000"/>
<rect x="82.8" y="870.4" width="5.4" height="5.4" fill="#000"/>
<rect x="77.6" y="868.7" width="5.4" height="5.4" fill="#000"/>
<line x1="99.33" y1="868.24" x2="117.86" y2="857.86" stroke="#000" stroke-width="2.2" stroke-dasharray="8 3.5"/>
<line x1="56.10" y1="735.23" x2="56.10" y2="908.72" stroke="#000" stroke-width="1.85" />
<line x1="48.60" y1="736.15" x2="56.10" y2="736.15" stroke="#000" stroke-width="1.85" />
<text font-size="12.3" text-anchor="end" font-weight="bold" stroke="#000" stroke-width="0.22" x="47.90" y="740.88" >5</text>
<line x1="48.60" y1="770.48" x2="56.10" y2="770.48" stroke="#000" stroke-width="1.85" />
<text font-size="12.3" text-anchor="end" font-weight="bold" stroke="#000" stroke-width="0.22" x="47.90" y="775.21" >4</text>
<line x1="48.60" y1="804.81" x2="56.10" y2="804.81" stroke="#000" stroke-width="1.85" />
<text font-size="12.3" text-anchor="end" font-weight="bold" stroke="#000" stroke-width="0.22" x="47.90" y="809.54" >3</text>
<line x1="48.60" y1="839.14" x2="56.10" y2="839.14" stroke="#000" stroke-width="1.85" />
<text font-size="12.3" text-anchor="end" font-weight="bold" stroke="#000" stroke-width="0.22" x="47.90" y="843.87" >2</text>
<line x1="48.60" y1="873.47" x2="56.10" y2="873.47" stroke="#000" stroke-width="1.85" />
<text font-size="12.3" text-anchor="end" font-weight="bold" stroke="#000" stroke-width="0.22" x="47.90" y="878.20" >1</text>
<line x1="48.60" y1="907.80" x2="56.10" y2="907.80" stroke="#000" stroke-width="1.85" />
<text font-size="12.3" text-anchor="end" font-weight="bold" stroke="#000" stroke-width="0.22" x="47.90" y="912.53" >0</text>
<line x1="55.20" y1="907.80" x2="311.30" y2="907.80" stroke="#000" stroke-width="1.85" />
<line x1="56.10" y1="907.80" x2="56.10" y2="915.30" stroke="#000" stroke-width="1.85" />
<text font-size="12.3" text-anchor="middle" font-weight="bold" stroke="#000" stroke-width="0.22" x="56.10" y="929.20" >0</text>
<line x1="140.85" y1="907.80" x2="140.85" y2="915.30" stroke="#000" stroke-width="1.85" />
<text font-size="12.3" text-anchor="middle" font-weight="bold" stroke="#000" stroke-width="0.22" x="140.85" y="929.20" >1</text>
<line x1="225.60" y1="907.80" x2="225.60" y2="915.30" stroke="#000" stroke-width="1.85" />
<text font-size="12.3" text-anchor="middle" font-weight="bold" stroke="#000" stroke-width="0.22" x="225.60" y="929.20" >2</text>
<line x1="310.35" y1="907.80" x2="310.35" y2="915.30" stroke="#000" stroke-width="1.85" />
<text font-size="12.3" text-anchor="middle" font-weight="bold" stroke="#000" stroke-width="0.22" x="310.35" y="929.20" >3</text>
<text font-size="13.6" text-anchor="middle" font-weight="bold" stroke="#000" stroke-width="0.22" transform="translate(11.80 821.50) rotate(-90)" >Amplitude</text>
<text font-size="13.6" text-anchor="middle" font-weight="bold" stroke="#000" stroke-width="0.22" transform="translate(27.30 821.80) rotate(-90)" >[Δ F/F (%)]</text>
<text font-size="13.6" text-anchor="middle" font-weight="bold" stroke="#000" stroke-width="0.22" x="182.90" y="949.70" >Width (s)</text>
<text font-size="17.8" text-anchor="start" font-weight="bold" stroke="#000" stroke-width="0.22" x="12.00" y="707.20" >H</text>
<text font-size="16.5" text-anchor="start" font-weight="bold" textLength="48.4" lengthAdjust="spacingAndGlyphs" x="65.60" y="705.50" stroke="#000" stroke-width="0.3">Saline</text>
<text font-size="16.5" text-anchor="start" font-weight="bold" fill="#00c000" textLength="153.2" lengthAdjust="spacingAndGlyphs" x="66.90" y="728.60" stroke="#00c000" stroke-width="0.3">Cocaine (10 mg/kg)</text>
<text font-size="16.5" text-anchor="start" font-weight="bold" fill="#0ccbf8" textLength="181.2" lengthAdjust="spacingAndGlyphs" x="66.40" y="751.50" stroke="#0ccbf8" stroke-width="0.3">Raclopride (0.3 mg/kg)</text>
<rect x="421.00" y="804.07" width="30.30" height="92.73" fill="#000"/>
<rect x="467.00" y="804.83" width="30.60" height="91.97" fill="#0ccbf8"/>
<line x1="436.10" y1="744.24" x2="482.40" y2="747.48" stroke="#000" stroke-width="1.0" />
<line x1="436.10" y1="787.52" x2="482.40" y2="796.17" stroke="#000" stroke-width="1.0" />
<line x1="436.10" y1="799.42" x2="482.40" y2="789.68" stroke="#000" stroke-width="1.0" />
<line x1="436.10" y1="812.40" x2="482.40" y2="798.34" stroke="#000" stroke-width="1.0" />
<line x1="436.10" y1="817.27" x2="482.40" y2="819.98" stroke="#000" stroke-width="1.0" />
<line x1="436.10" y1="863.26" x2="482.40" y2="876.24" stroke="#000" stroke-width="1.0" />
<circle cx="436.1" cy="744.2" r="2.45" fill="#fff" stroke="#000" stroke-width="0.95"/>
<circle cx="482.4" cy="747.5" r="2.45" fill="#0ccbf8" stroke="#000" stroke-width="0.95"/>
<circle cx="436.1" cy="787.5" r="2.45" fill="#fff" stroke="#000" stroke-width="0.95"/>
<circle cx="482.4" cy="796.2" r="2.45" fill="#0ccbf8" stroke="#000" stroke-width="0.95"/>
<circle cx="436.1" cy="799.4" r="2.45" fill="#fff" stroke="#000" stroke-width="0.95"/>
<circle cx="482.4" cy="789.7" r="2.45" fill="#0ccbf8" stroke="#000" stroke-width="0.95"/>
<circle cx="436.1" cy="812.4" r="2.45" fill="#fff" stroke="#000" stroke-width="0.95"/>
<circle cx="482.4" cy="798.3" r="2.45" fill="#0ccbf8" stroke="#000" stroke-width="0.95"/>
<circle cx="436.1" cy="817.3" r="2.45" fill="#fff" stroke="#000" stroke-width="0.95"/>
<circle cx="482.4" cy="820.0" r="2.45" fill="#0ccbf8" stroke="#000" stroke-width="0.95"/>
<circle cx="436.1" cy="863.3" r="2.45" fill="#fff" stroke="#000" stroke-width="0.95"/>
<circle cx="482.4" cy="876.2" r="2.45" fill="#0ccbf8" stroke="#000" stroke-width="0.95"/>
<line x1="406.00" y1="733.58" x2="406.00" y2="897.72" stroke="#000" stroke-width="1.85" />
<line x1="398.50" y1="734.50" x2="406.00" y2="734.50" stroke="#000" stroke-width="1.85" />
<text font-size="12.3" text-anchor="end" font-weight="bold" stroke="#000" stroke-width="0.22" x="397.80" y="739.23" >1.5</text>
<line x1="398.50" y1="788.60" x2="406.00" y2="788.60" stroke="#000" stroke-width="1.85" />
<text font-size="12.3" text-anchor="end" font-weight="bold" stroke="#000" stroke-width="0.22" x="397.80" y="793.33" >1.0</text>
<line x1="398.50" y1="842.70" x2="406.00" y2="842.70" stroke="#000" stroke-width="1.85" />
<text font-size="12.3" text-anchor="end" font-weight="bold" stroke="#000" stroke-width="0.22" x="397.80" y="847.43" >0.5</text>
<line x1="398.50" y1="896.80" x2="406.00" y2="896.80" stroke="#000" stroke-width="1.85" />
<text font-size="12.3" text-anchor="end" font-weight="bold" stroke="#000" stroke-width="0.22" x="397.80" y="901.53" >0.0</text>
<line x1="405.07" y1="896.80" x2="514.50" y2="896.80" stroke="#000" stroke-width="1.85" />
<line x1="436.10" y1="896.80" x2="436.10" y2="904.30" stroke="#000" stroke-width="1.85" />
<text font-size="12.3" text-anchor="end" font-weight="bold" stroke="#000" stroke-width="0.22" transform="translate(439.90 914.10) rotate(-45)" >Saline</text>
<line x1="482.40" y1="896.80" x2="482.40" y2="904.30" stroke="#000" stroke-width="1.85" />
<text font-size="12.3" text-anchor="end" font-weight="bold" stroke="#000" stroke-width="0.22" transform="translate(486.20 914.10) rotate(-45)" >Raclopride</text>
<text font-size="13" text-anchor="middle" font-weight="bold" stroke="#000" stroke-width="0.22" transform="translate(370.40 816.00) rotate(-90)" >Slope [(ΔF/F (%)) / s]</text>
<text font-size="17.8" text-anchor="start" font-weight="bold" stroke="#000" stroke-width="0.22" x="362.50" y="707.00" >I</text>
<rect x="638.30" y="804.93" width="30.50" height="93.07" fill="#000"/>
<rect x="684.60" y="843.16" width="30.50" height="54.84" fill="#00c000"/>
<line x1="653.40" y1="744.87" x2="700.30" y2="813.29" stroke="#000" stroke-width="1.0" />
<line x1="653.40" y1="788.31" x2="700.30" y2="840.99" stroke="#000" stroke-width="1.0" />
<line x1="653.40" y1="800.26" x2="700.30" y2="849.13" stroke="#000" stroke-width="1.0" />
<line x1="653.40" y1="812.75" x2="700.30" y2="829.04" stroke="#000" stroke-width="1.0" />
<line x1="653.40" y1="864.33" x2="700.30" y2="882.80" stroke="#000" stroke-width="1.0" />
<circle cx="653.4" cy="744.9" r="2.45" fill="#fff" stroke="#000" stroke-width="0.95"/>
<circle cx="700.3" cy="813.3" r="2.45" fill="#00c000" stroke="#000" stroke-width="0.95"/>
<circle cx="653.4" cy="788.3" r="2.45" fill="#fff" stroke="#000" stroke-width="0.95"/>
<circle cx="700.3" cy="841.0" r="2.45" fill="#00c000" stroke="#000" stroke-width="0.95"/>
<circle cx="653.4" cy="800.3" r="2.45" fill="#fff" stroke="#000" stroke-width="0.95"/>
<circle cx="700.3" cy="849.1" r="2.45" fill="#00c000" stroke="#000" stroke-width="0.95"/>
<circle cx="653.4" cy="812.7" r="2.45" fill="#fff" stroke="#000" stroke-width="0.95"/>
<circle cx="700.3" cy="829.0" r="2.45" fill="#00c000" stroke="#000" stroke-width="0.95"/>
<circle cx="653.4" cy="864.3" r="2.45" fill="#fff" stroke="#000" stroke-width="0.95"/>
<circle cx="700.3" cy="882.8" r="2.45" fill="#00c000" stroke="#000" stroke-width="0.95"/>
<line x1="623.00" y1="734.18" x2="623.00" y2="898.92" stroke="#000" stroke-width="1.85" />
<line x1="615.50" y1="735.10" x2="623.00" y2="735.10" stroke="#000" stroke-width="1.85" />
<text font-size="12.3" text-anchor="end" font-weight="bold" stroke="#000" stroke-width="0.22" x="614.80" y="739.83" >1.5</text>
<line x1="615.50" y1="789.40" x2="623.00" y2="789.40" stroke="#000" stroke-width="1.85" />
<text font-size="12.3" text-anchor="end" font-weight="bold" stroke="#000" stroke-width="0.22" x="614.80" y="794.13" >1.0</text>
<line x1="615.50" y1="843.70" x2="623.00" y2="843.70" stroke="#000" stroke-width="1.85" />
<text font-size="12.3" text-anchor="end" font-weight="bold" stroke="#000" stroke-width="0.22" x="614.80" y="848.43" >0.5</text>
<line x1="615.50" y1="898.00" x2="623.00" y2="898.00" stroke="#000" stroke-width="1.85" />
<text font-size="12.3" text-anchor="end" font-weight="bold" stroke="#000" stroke-width="0.22" x="614.80" y="902.73" >0.0</text>
<line x1="622.08" y1="898.00" x2="733.20" y2="898.00" stroke="#000" stroke-width="1.85" />
<line x1="653.40" y1="898.00" x2="653.40" y2="905.50" stroke="#000" stroke-width="1.85" />
<text font-size="12.3" text-anchor="end" font-weight="bold" stroke="#000" stroke-width="0.22" transform="translate(657.20 915.30) rotate(-45)" >Saline</text>
<line x1="700.30" y1="898.00" x2="700.30" y2="905.50" stroke="#000" stroke-width="1.85" />
<text font-size="12.3" text-anchor="end" font-weight="bold" stroke="#000" stroke-width="0.22" transform="translate(704.10 915.30) rotate(-45)" >Cocaine</text>
<polyline points="653.40,735.70 653.40,725.50 700.30,725.50 700.30,803.30" fill="none" stroke="#000" stroke-width="1.6"/>
<text x="676.60" y="721.67" font-size="15" text-anchor="middle" font-weight="bold" stroke="#000" stroke-width="0.25" font-family="DejaVu Sans, sans-serif">*</text>
<text font-size="13" text-anchor="middle" font-weight="bold" stroke="#000" stroke-width="0.22" transform="translate(588.60 816.50) rotate(-90)" >Slope [(ΔF/F (%)) / s]</text>
<text font-size="17.8" text-anchor="start" font-weight="bold" stroke="#000" stroke-width="0.22" x="576.50" y="707.00" >J</text>
</svg>
</body></html>
